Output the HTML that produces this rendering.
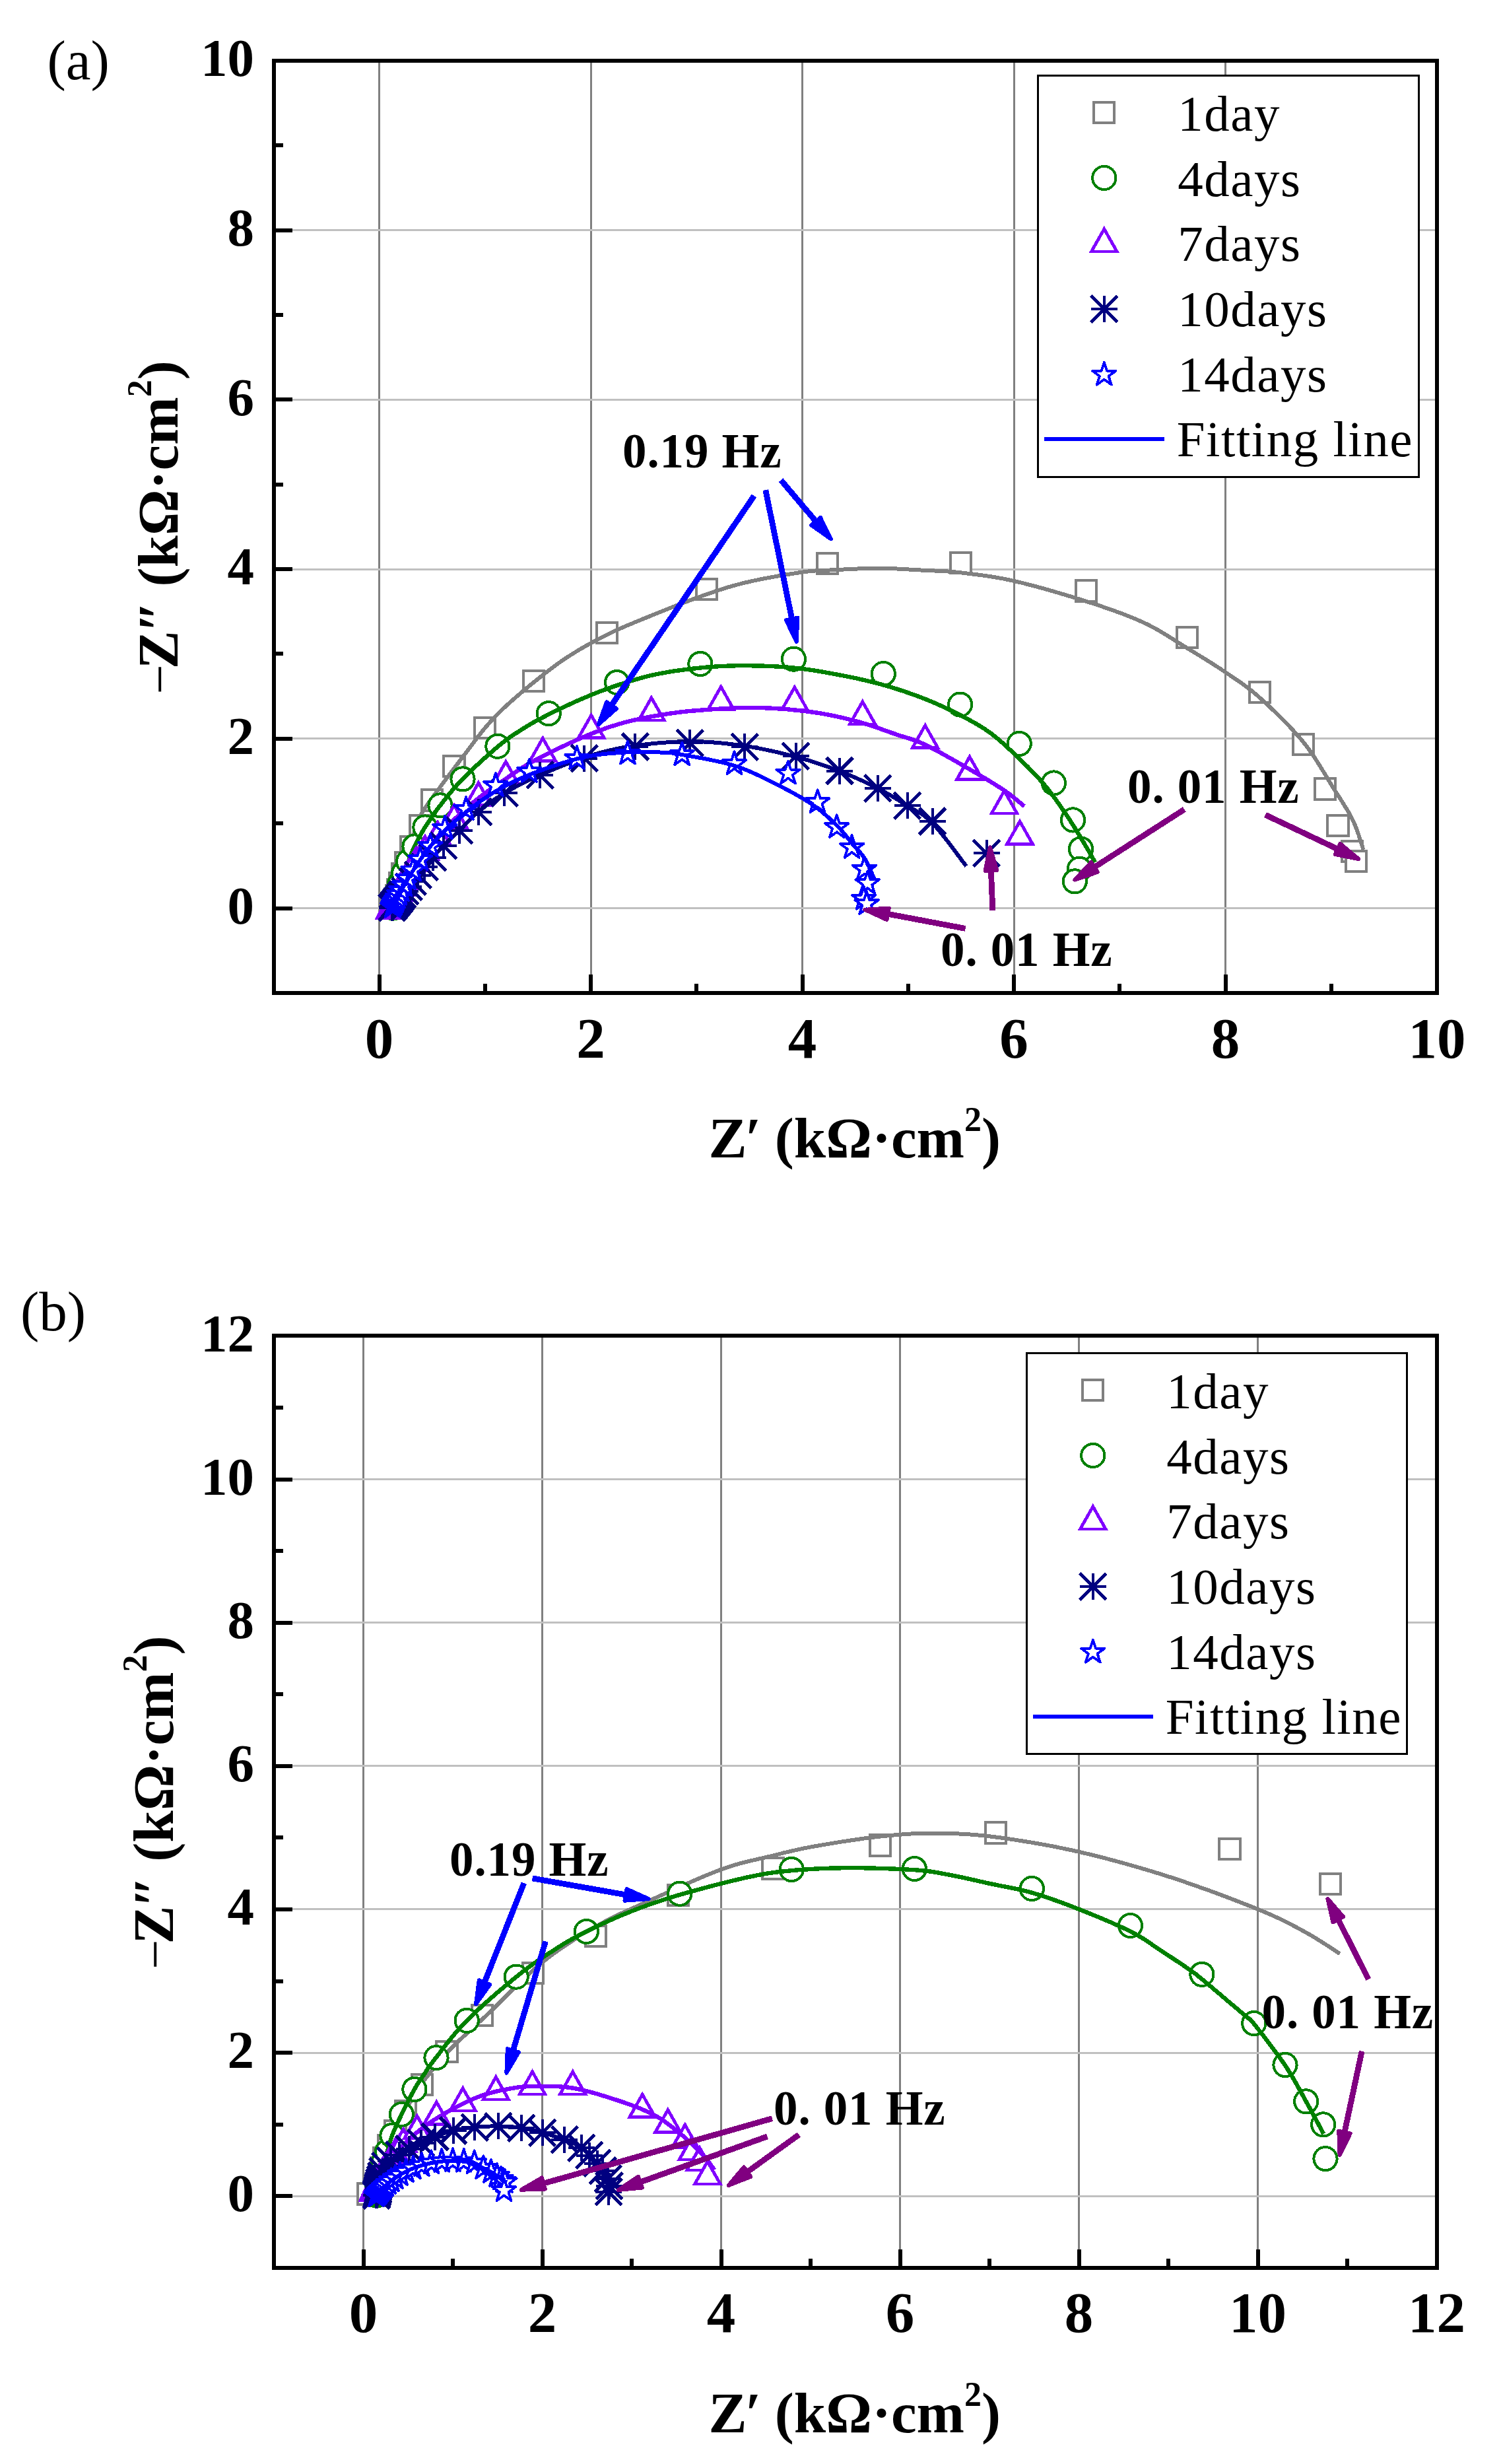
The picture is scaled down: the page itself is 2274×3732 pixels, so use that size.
<!DOCTYPE html><html><head><meta charset="utf-8"><title>Nyquist plots</title><style>html,body{margin:0;padding:0;background:#fff}svg{display:block}text{font-family:"Liberation Serif",serif;fill:#000}</style></head><body>
<svg width="2274" height="3732" viewBox="0 0 2274 3732" shape-rendering="crispEdges">
<rect width="2274" height="3732" fill="#fff"/>
<text x="71.5" y="119.5" font-size="85">(a)</text>
<text x="31" y="2014.6" font-size="85">(b)</text>
<g>
<g stroke-width="3" fill="none"><path stroke="#808080" d="M574.6 91.9V1503.9M895.1 91.9V1503.9M1215.6 91.9V1503.9M1536.0 91.9V1503.9M1856.5 91.9V1503.9"/><path stroke="#c0c0c0" d="M414.9 1375.5H2176.7M414.9 1118.8H2176.7M414.9 862.0H2176.7M414.9 605.3H2176.7M414.9 348.5H2176.7"/></g>
<path stroke="#000" stroke-width="6" fill="none" d="M574.6 1503.9V1475.6M895.1 1503.9V1475.6M1215.6 1503.9V1475.6M1536.0 1503.9V1475.6M1856.5 1503.9V1475.6M2177.0 1503.9V1475.6M734.8 1503.9V1489.9M1055.3 1503.9V1489.9M1375.8 1503.9V1489.9M1696.3 1503.9V1489.9M2016.8 1503.9V1489.9M414.9 1375.5H443.2M414.9 1118.8H443.2M414.9 862.0H443.2M414.9 605.3H443.2M414.9 348.5H443.2M414.9 91.8H443.2M414.9 1247.1H428.9M414.9 990.4H428.9M414.9 733.6H428.9M414.9 476.9H428.9M414.9 220.2H428.9"/>
<rect x="414.9" y="91.9" width="1761.8" height="1412.0" fill="none" stroke="#000" stroke-width="6"/>
<g font-weight="bold" font-size="81" text-anchor="end">
<text x="385" y="1398.7">0</text>
<text x="385" y="1142.0">2</text>
<text x="385" y="885.2">4</text>
<text x="385" y="628.5">6</text>
<text x="385" y="371.7">8</text>
<text x="385" y="115.0">10</text>
</g>
<g font-weight="bold" font-size="87" text-anchor="middle">
<text x="574.6" y="1601.5">0</text>
<text x="895.1" y="1601.5">2</text>
<text x="1215.6" y="1601.5">4</text>
<text x="1536.0" y="1601.5">6</text>
<text x="1856.5" y="1601.5">8</text>
<text x="2177.0" y="1601.5">10</text>
</g>
<text font-weight="bold" font-size="87" text-anchor="middle" x="1294.8" y="1752.9">Z<tspan font-style="italic" dx="-4">′</tspan> (kΩ·cm<tspan font-size="52" dy="-40">2</tspan><tspan dy="40">)</tspan></text>
<text font-weight="bold" font-size="87" text-anchor="middle" transform="translate(268.8 798.9) rotate(-90)"><tspan font-weight="normal" font-size="80">−</tspan><tspan dx="-7">Z</tspan><tspan font-style="italic" dx="-3">″</tspan> (kΩ·cm<tspan font-size="52" dy="-40">2</tspan><tspan dy="40">)</tspan></text>
<g stroke="#808080" stroke-width="4" fill="#fff" stroke-linejoin="miter"><rect x="577.9" y="1358.5" width="31.2" height="31.2"/><rect x="578.1" y="1357.8" width="31.2" height="31.2"/><rect x="578.4" y="1357.0" width="31.2" height="31.2"/><rect x="578.7" y="1355.8" width="31.2" height="31.2"/><rect x="579.2" y="1354.2" width="31.2" height="31.2"/><rect x="579.8" y="1352.1" width="31.2" height="31.2"/><rect x="580.8" y="1349.3" width="31.2" height="31.2"/><rect x="582.5" y="1345.7" width="31.2" height="31.2"/><rect x="585.0" y="1340.9" width="31.2" height="31.2"/><rect x="587.0" y="1331.9" width="31.2" height="31.2"/><rect x="589.5" y="1321.9" width="31.2" height="31.2"/><rect x="593.5" y="1308.4" width="31.2" height="31.2"/><rect x="598.6" y="1290.6" width="31.2" height="31.2"/><rect x="607.3" y="1267.3" width="31.2" height="31.2"/><rect x="620.6" y="1235.3" width="31.2" height="31.2"/><rect x="638.8" y="1196.3" width="31.2" height="31.2"/><rect x="672.4" y="1144.9" width="31.2" height="31.2"/><rect x="718.7" y="1086.8" width="31.2" height="31.2"/><rect x="792.9" y="1016.2" width="31.2" height="31.2"/><rect x="903.9" y="942.7" width="31.2" height="31.2"/><rect x="1054.9" y="877.0" width="31.2" height="31.2"/><rect x="1237.8" y="838.0" width="31.2" height="31.2"/><rect x="1439.6" y="837.0" width="31.2" height="31.2"/><rect x="1629.5" y="879.3" width="31.2" height="31.2"/><rect x="1782.7" y="950.0" width="31.2" height="31.2"/><rect x="1892.6" y="1032.6" width="31.2" height="31.2"/><rect x="1958.5" y="1112.2" width="31.2" height="31.2"/><rect x="1992.0" y="1179.4" width="31.2" height="31.2"/><rect x="2011.4" y="1234.8" width="31.2" height="31.2"/><rect x="2032.6" y="1274.0" width="31.2" height="31.2"/><rect x="2039.0" y="1288.8" width="31.2" height="31.2"/></g>
<path d="M593.0 1376.0 L593.1 1375.5 L593.3 1374.9 L593.5 1374.2 L593.7 1373.4 L594.0 1372.5 L594.2 1371.6 L594.5 1370.7 L594.8 1369.7 L595.1 1368.7 L595.4 1367.8 L595.7 1366.9 L596.0 1366.0 L596.3 1365.2 L596.6 1364.4 L596.9 1363.7 L597.3 1363.0 L597.6 1362.3 L597.9 1361.5 L598.3 1360.8 L598.6 1360.0 L599.0 1359.1 L599.3 1358.2 L599.7 1357.1 L600.0 1356.0 L600.3 1354.7 L600.7 1353.4 L601.0 1351.9 L601.3 1350.3 L601.7 1348.6 L602.0 1347.0 L602.3 1345.3 L602.7 1343.6 L603.0 1342.0 L603.3 1340.4 L603.7 1338.9 L604.0 1337.5 L604.3 1336.2 L604.7 1335.0 L605.0 1333.9 L605.3 1332.8 L605.6 1331.7 L605.9 1330.7 L606.3 1329.6 L606.6 1328.6 L606.9 1327.5 L607.3 1326.4 L607.6 1325.2 L608.0 1324.0 L608.4 1322.7 L608.7 1321.4 L609.1 1320.1 L609.5 1318.7 L609.9 1317.3 L610.3 1315.9 L610.7 1314.5 L611.1 1313.0 L611.6 1311.5 L612.0 1309.9 L612.5 1308.3 L613.0 1306.6 L613.5 1304.9 L614.1 1303.1 L614.6 1301.3 L615.2 1299.5 L615.8 1297.6 L616.4 1295.7 L617.0 1293.7 L617.7 1291.7 L618.4 1289.6 L619.0 1287.5 L619.8 1285.3 L620.5 1283.0 L621.3 1280.6 L622.1 1278.0 L622.9 1275.3 L623.8 1272.5 L624.7 1269.7 L625.7 1266.8 L626.6 1264.0 L627.5 1261.2 L628.4 1258.4 L629.3 1255.8 L630.2 1253.3 L631.0 1251.0 L631.8 1248.9 L632.4 1247.0 L633.0 1245.3 L633.6 1243.7 L634.1 1242.1 L634.7 1240.6 L635.3 1239.1 L635.9 1237.6 L636.7 1235.9 L637.6 1234.1 L638.7 1232.2 L640.0 1230.0 L641.4 1227.7 L643.0 1225.2 L644.7 1222.7 L646.4 1220.1 L648.3 1217.4 L650.3 1214.6 L652.4 1211.8 L654.6 1208.8 L656.8 1205.7 L659.1 1202.5 L661.5 1199.3 L664.0 1195.9 L666.6 1192.4 L669.3 1188.7 L672.2 1184.8 L675.2 1180.8 L678.2 1176.7 L681.4 1172.6 L684.5 1168.4 L687.7 1164.2 L690.8 1160.0 L694.0 1155.9 L697.0 1151.8 L700.0 1147.9 L702.9 1144.0 L705.9 1140.1 L708.8 1136.2 L711.8 1132.2 L714.7 1128.3 L717.6 1124.5 L720.5 1120.6 L723.4 1116.9 L726.2 1113.3 L729.0 1109.7 L731.7 1106.3 L734.4 1103.1 L737.0 1100.0 L739.4 1097.2 L741.8 1094.5 L744.0 1092.0 L746.3 1089.5 L748.5 1087.1 L750.8 1084.7 L753.1 1082.3 L755.6 1079.9 L758.2 1077.4 L760.9 1074.7 L763.9 1071.9 L767.1 1069.0 L770.4 1065.9 L773.8 1062.8 L777.4 1059.6 L781.1 1056.4 L784.8 1053.2 L788.7 1049.9 L792.6 1046.6 L796.5 1043.3 L800.5 1040.0 L804.5 1036.7 L808.5 1033.5 L812.5 1030.3 L816.6 1027.0 L820.7 1023.8 L824.8 1020.5 L829.0 1017.3 L833.3 1014.0 L837.6 1010.8 L841.9 1007.5 L846.3 1004.4 L850.8 1001.2 L855.3 998.1 L859.9 995.1 L864.6 992.1 L869.3 989.2 L874.1 986.2 L879.0 983.3 L883.9 980.4 L888.9 977.6 L893.9 974.8 L899.0 972.1 L904.0 969.4 L909.1 966.7 L914.1 964.1 L919.1 961.6 L924.0 959.2 L928.8 956.9 L933.6 954.7 L938.3 952.5 L943.0 950.5 L947.7 948.4 L952.6 946.4 L957.6 944.3 L962.8 942.1 L968.2 939.9 L973.8 937.6 L979.8 935.2 L986.2 932.6 L993.0 929.8 L1000.1 927.0 L1007.5 924.0 L1015.1 921.0 L1022.8 918.0 L1030.5 914.9 L1038.2 912.0 L1045.7 909.1 L1053.0 906.4 L1060.0 903.9 L1066.6 901.5 L1072.8 899.3 L1078.7 897.3 L1084.3 895.4 L1089.7 893.6 L1094.9 891.9 L1100.1 890.3 L1105.3 888.8 L1110.5 887.3 L1115.8 885.8 L1121.4 884.4 L1127.1 882.9 L1133.2 881.5 L1139.7 880.0 L1146.5 878.6 L1153.6 877.1 L1161.0 875.7 L1168.4 874.3 L1175.9 873.0 L1183.3 871.7 L1190.6 870.5 L1197.6 869.3 L1204.4 868.3 L1210.7 867.3 L1216.5 866.5 L1221.8 865.8 L1226.6 865.2 L1230.9 864.8 L1235.0 864.5 L1238.8 864.2 L1242.5 864.0 L1246.1 863.9 L1249.8 863.7 L1253.5 863.6 L1257.5 863.5 L1261.8 863.3 L1266.4 863.1 L1271.4 862.9 L1276.5 862.6 L1281.9 862.3 L1287.4 862.1 L1293.0 861.8 L1298.7 861.5 L1304.4 861.3 L1310.2 861.1 L1316.0 861.0 L1321.7 860.9 L1327.4 860.8 L1333.0 860.8 L1338.6 860.9 L1344.2 861.0 L1349.9 861.2 L1355.6 861.4 L1361.4 861.6 L1367.1 861.9 L1372.7 862.2 L1378.3 862.6 L1383.8 862.9 L1389.2 863.2 L1394.5 863.5 L1399.7 863.8 L1404.6 864.0 L1409.3 864.2 L1413.7 864.4 L1418.0 864.6 L1422.3 864.8 L1426.5 864.9 L1430.7 865.2 L1435.1 865.4 L1439.6 865.8 L1444.4 866.2 L1449.5 866.7 L1455.0 867.3 L1460.8 868.0 L1466.7 868.7 L1472.7 869.4 L1479.0 870.2 L1485.4 871.0 L1492.0 871.9 L1498.8 872.9 L1505.8 874.0 L1513.0 875.3 L1520.4 876.6 L1528.0 878.2 L1535.8 879.9 L1544.0 881.8 L1552.6 883.9 L1561.6 886.3 L1570.9 888.7 L1580.4 891.3 L1589.9 894.0 L1599.6 896.8 L1609.1 899.6 L1618.5 902.4 L1627.7 905.2 L1636.6 907.9 L1645.0 910.6 L1653.1 913.2 L1661.2 915.9 L1669.0 918.5 L1676.7 921.1 L1684.3 923.8 L1691.7 926.4 L1699.0 929.1 L1706.1 931.8 L1713.1 934.6 L1719.9 937.4 L1726.5 940.3 L1733.0 943.2 L1739.3 946.2 L1745.3 949.3 L1751.1 952.4 L1756.7 955.6 L1762.2 958.8 L1767.5 962.1 L1772.7 965.4 L1777.9 968.6 L1783.0 971.9 L1788.1 975.1 L1793.2 978.3 L1798.3 981.5 L1803.4 984.6 L1808.5 987.7 L1813.5 990.8 L1818.5 993.8 L1823.4 996.8 L1828.3 999.9 L1833.1 1002.9 L1837.9 1005.9 L1842.7 1009.0 L1847.4 1012.0 L1852.0 1015.1 L1856.6 1018.2 L1861.1 1021.2 L1865.4 1024.2 L1869.6 1027.0 L1873.8 1029.8 L1877.9 1032.6 L1881.9 1035.5 L1886.0 1038.5 L1890.2 1041.6 L1894.5 1044.9 L1898.9 1048.5 L1903.4 1052.3 L1908.2 1056.5 L1913.2 1061.0 L1918.5 1065.9 L1924.1 1071.1 L1929.8 1076.5 L1935.5 1082.1 L1941.4 1087.8 L1947.1 1093.7 L1952.9 1099.6 L1958.5 1105.5 L1963.8 1111.5 L1969.0 1117.3 L1973.8 1123.1 L1978.4 1128.9 L1982.8 1134.8 L1987.1 1140.8 L1991.2 1146.9 L1995.2 1153.0 L1999.0 1159.1 L2002.8 1165.2 L2006.4 1171.1 L2009.9 1176.9 L2013.3 1182.6 L2016.6 1188.0 L2019.8 1193.1 L2022.9 1198.0 L2025.9 1202.6 L2028.8 1207.1 L2031.5 1211.4 L2034.2 1215.6 L2036.7 1219.7 L2039.1 1223.6 L2041.5 1227.5 L2043.7 1231.4 L2045.8 1235.3 L2047.9 1239.1 L2049.8 1243.0 L2051.7 1247.0 L2053.4 1251.2 L2055.1 1255.4 L2056.7 1259.7 L2058.2 1264.0 L2059.5 1268.1 L2060.8 1272.1 L2062.0 1275.8 L2063.0 1279.2 L2064.0 1282.3 L2064.8 1284.9 L2065.5 1287.0" fill="none" stroke="#808080" stroke-width="6" stroke-linejoin="round"/>
<g stroke="#008000" stroke-width="4" fill="#fff" stroke-linejoin="miter"><circle cx="595.4" cy="1375.1" r="17.6"/><circle cx="595.6" cy="1374.4" r="17.6"/><circle cx="595.8" cy="1373.3" r="17.6"/><circle cx="596.1" cy="1371.9" r="17.6"/><circle cx="596.6" cy="1369.9" r="17.6"/><circle cx="597.2" cy="1367.2" r="17.6"/><circle cx="598.2" cy="1363.4" r="17.6"/><circle cx="599.5" cy="1358.2" r="17.6"/><circle cx="601.6" cy="1350.9" r="17.6"/><circle cx="605.6" cy="1338.9" r="17.6"/><circle cx="611.6" cy="1322.9" r="17.6"/><circle cx="618.6" cy="1305.0" r="17.6"/><circle cx="628.0" cy="1282.0" r="17.6"/><circle cx="643.9" cy="1253.0" r="17.6"/><circle cx="667.0" cy="1219.9" r="17.6"/><circle cx="701.0" cy="1179.9" r="17.6"/><circle cx="753.9" cy="1130.3" r="17.6"/><circle cx="831.2" cy="1080.7" r="17.6"/><circle cx="934.6" cy="1033.6" r="17.6"/><circle cx="1060.9" cy="1005.5" r="17.6"/><circle cx="1202.4" cy="998.2" r="17.6"/><circle cx="1338.3" cy="1020.5" r="17.6"/><circle cx="1454.6" cy="1067.1" r="17.6"/><circle cx="1544.2" cy="1126.4" r="17.6"/><circle cx="1596.4" cy="1186.0" r="17.6"/><circle cx="1625.5" cy="1241.9" r="17.6"/><circle cx="1637.5" cy="1285.9" r="17.6"/><circle cx="1635.3" cy="1316.3" r="17.6"/><circle cx="1628.3" cy="1334.9" r="17.6"/></g>
<path d="M595.0 1377.0 L595.1 1376.4 L595.3 1375.6 L595.5 1374.7 L595.8 1373.6 L596.0 1372.5 L596.3 1371.3 L596.6 1370.1 L596.8 1368.8 L597.1 1367.6 L597.4 1366.3 L597.7 1365.1 L598.0 1364.0 L598.3 1362.9 L598.6 1361.8 L598.8 1360.7 L599.1 1359.6 L599.4 1358.5 L599.7 1357.4 L600.0 1356.3 L600.3 1355.3 L600.7 1354.2 L601.0 1353.1 L601.3 1352.0 L601.6 1351.0 L601.9 1350.0 L602.2 1349.0 L602.5 1348.0 L602.8 1347.1 L603.1 1346.1 L603.5 1345.2 L603.8 1344.2 L604.1 1343.3 L604.5 1342.3 L604.8 1341.2 L605.2 1340.1 L605.6 1339.0 L606.0 1337.8 L606.5 1336.6 L606.9 1335.3 L607.4 1334.0 L607.9 1332.7 L608.4 1331.4 L608.9 1330.0 L609.5 1328.6 L610.0 1327.2 L610.5 1325.8 L611.1 1324.4 L611.6 1323.0 L612.1 1321.6 L612.7 1320.2 L613.2 1318.8 L613.8 1317.3 L614.3 1315.9 L614.9 1314.4 L615.5 1313.0 L616.1 1311.4 L616.7 1309.9 L617.3 1308.3 L617.9 1306.7 L618.6 1305.0 L619.3 1303.3 L620.0 1301.5 L620.6 1299.7 L621.3 1297.9 L622.0 1296.1 L622.7 1294.2 L623.5 1292.3 L624.3 1290.3 L625.1 1288.3 L626.0 1286.2 L627.0 1284.1 L628.0 1282.0 L629.1 1279.8 L630.2 1277.6 L631.3 1275.3 L632.6 1272.9 L633.8 1270.5 L635.1 1268.1 L636.4 1265.7 L637.8 1263.2 L639.3 1260.7 L640.8 1258.1 L642.3 1255.6 L643.9 1253.0 L645.5 1250.4 L647.2 1247.8 L648.9 1245.2 L650.7 1242.5 L652.5 1239.8 L654.3 1237.1 L656.2 1234.4 L658.2 1231.6 L660.3 1228.8 L662.4 1225.9 L664.7 1222.9 L667.0 1219.9 L669.4 1216.8 L671.8 1213.7 L674.3 1210.6 L676.8 1207.4 L679.4 1204.2 L682.1 1200.9 L684.9 1197.5 L687.9 1194.1 L690.9 1190.7 L694.1 1187.2 L697.5 1183.6 L701.0 1179.9 L704.8 1176.1 L708.9 1172.0 L713.2 1167.8 L717.8 1163.4 L722.5 1159.0 L727.2 1154.6 L732.0 1150.3 L736.7 1146.0 L741.3 1141.9 L745.7 1138.0 L750.0 1134.3 L753.9 1131.0 L757.6 1128.0 L761.1 1125.2 L764.4 1122.6 L767.6 1120.2 L770.7 1117.9 L773.7 1115.8 L776.7 1113.8 L779.7 1111.8 L782.7 1109.9 L785.7 1108.0 L788.7 1106.0 L791.9 1104.0 L795.1 1102.0 L798.2 1100.1 L801.3 1098.2 L804.4 1096.4 L807.5 1094.6 L810.7 1092.8 L813.9 1091.1 L817.1 1089.3 L820.5 1087.6 L824.0 1085.8 L827.6 1083.9 L831.3 1082.0 L835.2 1080.0 L839.3 1078.0 L843.6 1075.9 L847.9 1073.8 L852.4 1071.7 L856.9 1069.6 L861.4 1067.5 L866.0 1065.4 L870.5 1063.3 L875.1 1061.3 L879.5 1059.4 L883.9 1057.5 L888.2 1055.7 L892.4 1053.9 L896.6 1052.2 L900.8 1050.5 L904.9 1048.9 L909.1 1047.2 L913.3 1045.7 L917.5 1044.1 L921.8 1042.5 L926.1 1041.0 L930.5 1039.5 L935.0 1038.0 L939.6 1036.5 L944.2 1035.0 L948.8 1033.5 L953.5 1032.0 L958.3 1030.6 L963.1 1029.2 L967.9 1027.8 L972.8 1026.4 L977.8 1025.1 L982.9 1023.8 L988.0 1022.6 L993.2 1021.5 L998.5 1020.4 L1004.0 1019.4 L1009.5 1018.4 L1015.1 1017.4 L1020.8 1016.5 L1026.6 1015.7 L1032.4 1014.9 L1038.1 1014.1 L1043.9 1013.4 L1049.6 1012.7 L1055.3 1012.1 L1060.9 1011.5 L1066.4 1011.0 L1071.8 1010.5 L1077.2 1010.0 L1082.5 1009.7 L1087.9 1009.3 L1093.2 1009.0 L1098.5 1008.8 L1103.9 1008.6 L1109.4 1008.4 L1115.0 1008.3 L1120.7 1008.2 L1126.5 1008.2 L1132.5 1008.2 L1138.6 1008.3 L1144.8 1008.4 L1151.1 1008.5 L1157.5 1008.7 L1163.9 1008.9 L1170.4 1009.2 L1176.9 1009.5 L1183.3 1009.9 L1189.7 1010.4 L1196.1 1010.9 L1202.4 1011.5 L1208.7 1012.2 L1215.0 1012.9 L1221.3 1013.8 L1227.7 1014.7 L1234.0 1015.6 L1240.3 1016.7 L1246.5 1017.7 L1252.7 1018.8 L1258.8 1019.9 L1264.8 1021.0 L1270.7 1022.1 L1276.4 1023.2 L1282.0 1024.3 L1287.4 1025.4 L1292.7 1026.4 L1297.9 1027.5 L1303.1 1028.7 L1308.1 1029.8 L1313.1 1031.0 L1318.1 1032.2 L1323.1 1033.4 L1328.1 1034.7 L1333.2 1036.1 L1338.3 1037.5 L1343.5 1039.0 L1348.7 1040.5 L1353.9 1042.1 L1359.1 1043.7 L1364.3 1045.4 L1369.5 1047.1 L1374.7 1048.9 L1379.9 1050.7 L1385.0 1052.5 L1390.0 1054.3 L1395.0 1056.2 L1399.9 1058.1 L1404.7 1060.0 L1409.5 1062.0 L1414.3 1064.0 L1419.0 1066.0 L1423.7 1068.1 L1428.3 1070.2 L1432.8 1072.3 L1437.3 1074.5 L1441.7 1076.6 L1446.1 1078.8 L1450.4 1080.9 L1454.6 1083.1 L1458.7 1085.2 L1462.8 1087.4 L1466.7 1089.5 L1470.6 1091.6 L1474.4 1093.7 L1478.2 1095.8 L1481.9 1098.0 L1485.5 1100.2 L1489.2 1102.5 L1492.8 1104.8 L1496.3 1107.3 L1499.9 1109.8 L1503.4 1112.4 L1506.9 1115.1 L1510.3 1117.9 L1513.7 1120.7 L1517.0 1123.6 L1520.3 1126.5 L1523.6 1129.5 L1526.8 1132.5 L1530.1 1135.6 L1533.4 1138.7 L1536.7 1141.8 L1540.0 1145.0 L1543.4 1148.2 L1546.8 1151.5 L1550.2 1154.9 L1553.7 1158.3 L1557.2 1161.7 L1560.6 1165.2 L1564.0 1168.7 L1567.4 1172.2 L1570.7 1175.7 L1573.9 1179.2 L1577.0 1182.6 L1580.0 1186.0 L1582.9 1189.4 L1585.7 1192.8 L1588.4 1196.2 L1591.0 1199.6 L1593.6 1203.0 L1596.1 1206.4 L1598.6 1209.8 L1601.0 1213.1 L1603.3 1216.4 L1605.6 1219.7 L1607.8 1222.9 L1610.0 1226.0 L1612.1 1229.1 L1614.2 1232.1 L1616.2 1235.0 L1618.1 1237.9 L1619.9 1240.8 L1621.8 1243.6 L1623.5 1246.4 L1625.3 1249.2 L1627.0 1251.9 L1628.7 1254.6 L1630.3 1257.3 L1632.0 1260.0 L1633.7 1262.7 L1635.3 1265.4 L1637.0 1268.1 L1638.6 1270.8 L1640.2 1273.5 L1641.8 1276.1 L1643.3 1278.7 L1644.8 1281.2 L1646.2 1283.6 L1647.6 1285.9 L1648.8 1288.0 L1650.0 1290.0 L1651.1 1291.9 L1652.1 1293.7 L1653.1 1295.4 L1654.0 1297.0 L1654.8 1298.5 L1655.6 1299.9 L1656.3 1301.2 L1657.0 1302.4 L1657.6 1303.5 L1658.1 1304.4 L1658.6 1305.3 L1659.0 1306.0" fill="none" stroke="#008000" stroke-width="6.4" stroke-linejoin="round"/>
<g stroke="#8000ff" stroke-width="4.8" fill="#fff" stroke-linejoin="miter"><path d="M590.7 1356.9 L610.0 1391.0 L571.4 1391.0 Z"/><path d="M590.9 1356.6 L610.2 1390.7 L571.6 1390.7 Z"/><path d="M591.1 1356.1 L610.4 1390.2 L571.8 1390.2 Z"/><path d="M591.4 1355.5 L610.7 1389.6 L572.1 1389.6 Z"/><path d="M591.7 1354.8 L611.0 1388.9 L572.4 1388.9 Z"/><path d="M592.2 1353.8 L611.5 1387.9 L572.9 1387.9 Z"/><path d="M592.7 1352.7 L612.0 1386.8 L573.4 1386.8 Z"/><path d="M593.5 1351.2 L612.8 1385.3 L574.2 1385.3 Z"/><path d="M594.4 1349.3 L613.7 1383.4 L575.1 1383.4 Z"/><path d="M595.5 1346.8 L614.8 1380.9 L576.2 1380.9 Z"/><path d="M597.0 1343.8 L616.3 1377.9 L577.7 1377.9 Z"/><path d="M598.9 1340.0 L618.2 1374.1 L579.6 1374.1 Z"/><path d="M601.2 1335.1 L620.5 1369.2 L581.9 1369.2 Z"/><path d="M604.3 1329.0 L623.6 1363.1 L585.0 1363.1 Z"/><path d="M608.4 1321.3 L627.7 1355.4 L589.1 1355.4 Z"/><path d="M613.8 1311.7 L633.1 1345.8 L594.5 1345.8 Z"/><path d="M620.9 1299.7 L640.2 1333.8 L601.6 1333.8 Z"/><path d="M630.4 1284.9 L649.7 1319.0 L611.1 1319.0 Z"/><path d="M643.9 1267.0 L663.2 1301.1 L624.6 1301.1 Z"/><path d="M663.0 1245.6 L682.3 1279.7 L643.7 1279.7 Z"/><path d="M688.0 1219.6 L707.3 1253.7 L668.7 1253.7 Z"/><path d="M724.9 1185.6 L744.2 1219.7 L705.6 1219.7 Z"/><path d="M766.3 1153.6 L785.6 1187.7 L747.0 1187.7 Z"/><path d="M822.3 1118.1 L841.6 1152.2 L803.0 1152.2 Z"/><path d="M895.7 1083.3 L915.0 1117.4 L876.4 1117.4 Z"/><path d="M986.9 1056.8 L1006.2 1090.9 L967.6 1090.9 Z"/><path d="M1092.2 1040.2 L1111.5 1074.3 L1072.9 1074.3 Z"/><path d="M1203.8 1040.9 L1223.1 1075.0 L1184.5 1075.0 Z"/><path d="M1306.7 1062.8 L1326.0 1096.9 L1287.4 1096.9 Z"/><path d="M1401.6 1098.7 L1420.9 1132.8 L1382.3 1132.8 Z"/><path d="M1469.0 1146.2 L1488.3 1180.3 L1449.7 1180.3 Z"/><path d="M1521.5 1197.9 L1540.8 1232.0 L1502.2 1232.0 Z"/><path d="M1545.0 1244.1 L1564.3 1278.2 L1525.7 1278.2 Z"/></g>
<path d="M590.0 1380.0 L591.0 1378.1 L592.1 1375.6 L593.5 1372.8 L595.0 1369.6 L596.7 1366.2 L598.4 1362.5 L600.3 1358.7 L602.2 1354.8 L604.2 1350.9 L606.1 1347.1 L608.1 1343.5 L610.0 1340.0 L611.9 1336.6 L613.8 1333.2 L615.8 1329.8 L617.9 1326.4 L619.9 1323.0 L622.0 1319.5 L624.1 1316.1 L626.3 1312.8 L628.4 1309.5 L630.6 1306.2 L632.8 1303.1 L635.0 1300.0 L637.2 1297.0 L639.5 1294.0 L641.9 1291.2 L644.2 1288.3 L646.6 1285.5 L649.0 1282.8 L651.4 1280.1 L653.8 1277.4 L656.1 1274.8 L658.5 1272.3 L660.8 1269.8 L663.0 1267.3 L665.2 1264.9 L667.2 1262.7 L669.2 1260.5 L671.1 1258.4 L673.0 1256.3 L674.9 1254.3 L676.9 1252.2 L678.9 1250.2 L681.0 1248.1 L683.2 1245.9 L685.5 1243.7 L688.0 1241.3 L690.7 1238.8 L693.5 1236.2 L696.4 1233.5 L699.5 1230.7 L702.6 1227.9 L705.8 1225.1 L709.1 1222.3 L712.3 1219.5 L715.5 1216.7 L718.7 1214.0 L721.9 1211.5 L724.9 1209.0 L727.9 1206.7 L730.7 1204.5 L733.5 1202.4 L736.3 1200.3 L739.1 1198.3 L741.9 1196.4 L744.7 1194.4 L747.6 1192.4 L750.5 1190.4 L753.5 1188.4 L756.7 1186.2 L760.0 1184.0 L763.4 1181.7 L766.7 1179.4 L770.1 1177.0 L773.5 1174.6 L777.0 1172.2 L780.6 1169.7 L784.3 1167.2 L788.2 1164.6 L792.3 1162.0 L796.6 1159.4 L801.2 1156.7 L806.0 1154.0 L811.2 1151.2 L816.9 1148.2 L822.9 1145.1 L829.1 1141.9 L835.6 1138.7 L842.1 1135.5 L848.7 1132.3 L855.3 1129.2 L861.8 1126.2 L868.2 1123.3 L874.2 1120.5 L880.0 1118.0 L885.5 1115.6 L890.8 1113.4 L896.0 1111.3 L901.0 1109.3 L906.0 1107.4 L910.9 1105.6 L915.7 1103.8 L920.5 1102.1 L925.3 1100.5 L930.2 1099.0 L935.0 1097.5 L940.0 1096.0 L945.0 1094.6 L950.0 1093.2 L955.0 1092.0 L960.0 1090.8 L965.0 1089.7 L970.0 1088.6 L975.0 1087.5 L980.0 1086.6 L985.0 1085.6 L990.0 1084.7 L995.0 1083.9 L1000.0 1083.0 L1004.9 1082.2 L1009.7 1081.4 L1014.5 1080.7 L1019.1 1080.1 L1023.8 1079.4 L1028.6 1078.8 L1033.4 1078.3 L1038.3 1077.7 L1043.4 1077.2 L1048.7 1076.7 L1054.2 1076.3 L1060.0 1075.8 L1066.1 1075.3 L1072.5 1074.8 L1079.1 1074.3 L1085.9 1073.9 L1092.9 1073.4 L1100.0 1073.0 L1107.2 1072.6 L1114.5 1072.3 L1121.7 1072.0 L1128.9 1071.8 L1136.0 1071.8 L1143.0 1071.8 L1150.0 1071.9 L1157.0 1072.2 L1164.1 1072.5 L1171.3 1072.8 L1178.4 1073.3 L1185.5 1073.8 L1192.6 1074.3 L1199.6 1075.0 L1206.5 1075.7 L1213.3 1076.4 L1219.9 1077.2 L1226.4 1078.0 L1232.7 1078.9 L1238.9 1079.8 L1244.9 1080.8 L1250.8 1081.8 L1256.7 1082.9 L1262.4 1084.1 L1268.1 1085.3 L1273.7 1086.5 L1279.3 1087.8 L1284.9 1089.2 L1290.5 1090.6 L1296.0 1092.0 L1301.6 1093.5 L1307.2 1095.2 L1312.8 1096.9 L1318.5 1098.7 L1324.1 1100.6 L1329.6 1102.4 L1335.0 1104.3 L1340.3 1106.2 L1345.4 1108.0 L1350.4 1109.8 L1355.2 1111.4 L1359.7 1113.0 L1363.9 1114.4 L1367.7 1115.6 L1371.1 1116.6 L1374.4 1117.6 L1377.5 1118.5 L1380.5 1119.5 L1383.5 1120.5 L1386.6 1121.6 L1389.9 1122.8 L1393.5 1124.3 L1397.4 1126.0 L1401.7 1128.0 L1406.5 1130.3 L1411.6 1133.0 L1417.1 1135.9 L1422.8 1139.0 L1428.7 1142.2 L1434.7 1145.6 L1440.8 1149.0 L1446.8 1152.4 L1452.7 1155.8 L1458.4 1159.1 L1463.9 1162.3 L1469.1 1165.3 L1474.1 1168.2 L1479.0 1171.0 L1483.8 1173.9 L1488.5 1176.7 L1493.2 1179.4 L1497.7 1182.1 L1502.1 1184.8 L1506.3 1187.4 L1510.4 1190.0 L1514.3 1192.5 L1518.1 1194.9 L1521.6 1197.3 L1525.0 1199.7 L1528.3 1202.0 L1531.4 1204.4 L1534.4 1206.8 L1537.3 1209.0 L1540.0 1211.3 L1542.5 1213.3 L1544.8 1215.3 L1546.9 1217.1 L1548.8 1218.7 L1550.4 1220.1 L1551.8 1221.2" fill="none" stroke="#8000ff" stroke-width="6.4" stroke-linejoin="round"/>
<g stroke="#000080" stroke-width="4" fill="none" stroke-linejoin="miter"><path d="M574.0 1374.7H614.0M594.0 1354.7V1394.7"/><path stroke-width="5" d="M574.0 1354.7L614.0 1394.7M574.0 1394.7L614.0 1354.7"/><path d="M574.2 1374.4H614.2M594.2 1354.4V1394.4"/><path stroke-width="5" d="M574.2 1354.4L614.2 1394.4M574.2 1394.4L614.2 1354.4"/><path d="M574.5 1374.0H614.5M594.5 1354.0V1394.0"/><path stroke-width="5" d="M574.5 1354.0L614.5 1394.0M574.5 1394.0L614.5 1354.0"/><path d="M574.9 1373.6H614.9M594.9 1353.6V1393.6"/><path stroke-width="5" d="M574.9 1353.6L614.9 1393.6M574.9 1393.6L614.9 1353.6"/><path d="M575.4 1373.0H615.4M595.4 1353.0V1393.0"/><path stroke-width="5" d="M575.4 1353.0L615.4 1393.0M575.4 1393.0L615.4 1353.0"/><path d="M576.0 1372.3H616.0M596.0 1352.3V1392.3"/><path stroke-width="5" d="M576.0 1352.3L616.0 1392.3M576.0 1392.3L616.0 1352.3"/><path d="M576.7 1371.4H616.7M596.7 1351.4V1391.4"/><path stroke-width="5" d="M576.7 1351.4L616.7 1391.4M576.7 1391.4L616.7 1351.4"/><path d="M577.6 1370.2H617.6M597.6 1350.2V1390.2"/><path stroke-width="5" d="M577.6 1350.2L617.6 1390.2M577.6 1390.2L617.6 1350.2"/><path d="M578.7 1368.8H618.7M598.7 1348.8V1388.8"/><path stroke-width="5" d="M578.7 1348.8L618.7 1388.8M578.7 1388.8L618.7 1348.8"/><path d="M580.1 1367.1H620.1M600.1 1347.1V1387.1"/><path stroke-width="5" d="M580.1 1347.1L620.1 1387.1M580.1 1387.1L620.1 1347.1"/><path d="M581.8 1364.9H621.8M601.8 1344.9V1384.9"/><path stroke-width="5" d="M581.8 1344.9L621.8 1384.9M581.8 1384.9L621.8 1344.9"/><path d="M583.9 1362.2H623.9M603.9 1342.2V1382.2"/><path stroke-width="5" d="M583.9 1342.2L623.9 1382.2M583.9 1382.2L623.9 1342.2"/><path d="M586.5 1358.9H626.5M606.5 1338.9V1378.9"/><path stroke-width="5" d="M586.5 1338.9L626.5 1378.9M586.5 1378.9L626.5 1338.9"/><path d="M589.8 1354.8H629.8M609.8 1334.8V1374.8"/><path stroke-width="5" d="M589.8 1334.8L629.8 1374.8M589.8 1374.8L629.8 1334.8"/><path d="M593.9 1349.6H633.9M613.9 1329.6V1369.6"/><path stroke-width="5" d="M593.9 1329.6L633.9 1369.6M593.9 1369.6L633.9 1329.6"/><path d="M599.0 1343.3H639.0M619.0 1323.3V1363.3"/><path stroke-width="5" d="M599.0 1323.3L639.0 1363.3M599.0 1363.3L639.0 1323.3"/><path d="M605.3 1335.3H645.3M625.3 1315.3V1355.3"/><path stroke-width="5" d="M605.3 1315.3L645.3 1355.3M605.3 1355.3L645.3 1315.3"/><path d="M613.1 1325.5H653.1M633.1 1305.5V1345.5"/><path stroke-width="5" d="M613.1 1305.5L653.1 1345.5M613.1 1345.5L653.1 1305.5"/><path d="M623.0 1313.4H663.0M643.0 1293.4V1333.4"/><path stroke-width="5" d="M623.0 1293.4L663.0 1333.4M623.0 1333.4L663.0 1293.4"/><path d="M635.7 1298.7H675.7M655.7 1278.7V1318.7"/><path stroke-width="5" d="M635.7 1278.7L675.7 1318.7M635.7 1318.7L675.7 1278.7"/><path d="M652.0 1280.9H692.0M672.0 1260.9V1300.9"/><path stroke-width="5" d="M652.0 1260.9L692.0 1300.9M652.0 1300.9L692.0 1260.9"/><path d="M676.0 1257.9H716.0M696.0 1237.9V1277.9"/><path stroke-width="5" d="M676.0 1237.9L716.0 1277.9M676.0 1277.9L716.0 1237.9"/><path d="M704.9 1229.5H744.9M724.9 1209.5V1249.5"/><path stroke-width="5" d="M704.9 1209.5L744.9 1249.5M704.9 1249.5L744.9 1209.5"/><path d="M744.3 1201.3H784.3M764.3 1181.3V1221.3"/><path stroke-width="5" d="M744.3 1181.3L784.3 1221.3M744.3 1221.3L784.3 1181.3"/><path d="M798.3 1173.9H838.3M818.3 1153.9V1193.9"/><path stroke-width="5" d="M798.3 1153.9L838.3 1193.9M798.3 1193.9L838.3 1153.9"/><path d="M865.2 1148.6H905.2M885.2 1128.6V1168.6"/><path stroke-width="5" d="M865.2 1128.6L905.2 1168.6M865.2 1168.6L905.2 1128.6"/><path d="M942.3 1130.8H982.3M962.3 1110.8V1150.8"/><path stroke-width="5" d="M942.3 1110.8L982.3 1150.8M942.3 1150.8L982.3 1110.8"/><path d="M1025.2 1125.4H1065.2M1045.2 1105.4V1145.4"/><path stroke-width="5" d="M1025.2 1105.4L1065.2 1145.4M1025.2 1145.4L1065.2 1105.4"/><path d="M1108.2 1131.4H1148.2M1128.2 1111.4V1151.4"/><path stroke-width="5" d="M1108.2 1111.4L1148.2 1151.4M1108.2 1151.4L1148.2 1111.4"/><path d="M1185.5 1145.1H1225.5M1205.5 1125.1V1165.1"/><path stroke-width="5" d="M1185.5 1125.1L1225.5 1165.1M1185.5 1165.1L1225.5 1125.1"/><path d="M1252.0 1167.5H1292.0M1272.0 1147.5V1187.5"/><path stroke-width="5" d="M1252.0 1147.5L1292.0 1187.5M1252.0 1187.5L1292.0 1147.5"/><path d="M1309.8 1194.1H1349.8M1329.8 1174.1V1214.1"/><path stroke-width="5" d="M1309.8 1174.1L1349.8 1214.1M1309.8 1214.1L1349.8 1174.1"/><path d="M1354.5 1220.4H1394.5M1374.5 1200.4V1240.4"/><path stroke-width="5" d="M1354.5 1200.4L1394.5 1240.4M1354.5 1240.4L1394.5 1200.4"/><path d="M1392.6 1243.9H1432.6M1412.6 1223.9V1263.9"/><path stroke-width="5" d="M1392.6 1223.9L1432.6 1263.9M1392.6 1263.9L1432.6 1223.9"/><path d="M1474.5 1292.4H1514.5M1494.5 1272.4V1312.4"/><path stroke-width="5" d="M1474.5 1272.4L1514.5 1312.4M1474.5 1312.4L1514.5 1272.4"/></g>
<path d="M593.0 1376.0 L594.3 1374.3 L596.0 1372.3 L597.9 1369.8 L600.1 1367.1 L602.4 1364.1 L604.9 1360.9 L607.5 1357.7 L610.1 1354.4 L612.8 1351.1 L615.3 1347.9 L617.7 1344.8 L620.0 1342.0 L622.1 1339.3 L624.3 1336.6 L626.3 1334.0 L628.4 1331.4 L630.5 1328.8 L632.5 1326.3 L634.5 1323.7 L636.6 1321.2 L638.7 1318.6 L640.7 1316.1 L642.9 1313.5 L645.0 1311.0 L647.2 1308.4 L649.4 1305.8 L651.7 1303.2 L654.0 1300.6 L656.3 1298.0 L658.6 1295.5 L660.9 1292.9 L663.1 1290.4 L665.4 1287.9 L667.7 1285.5 L669.8 1283.2 L672.0 1280.9 L674.1 1278.8 L676.1 1276.7 L678.1 1274.8 L680.0 1272.9 L682.0 1271.1 L683.9 1269.3 L685.8 1267.5 L687.7 1265.7 L689.7 1263.9 L691.8 1262.0 L693.8 1260.0 L696.0 1257.9 L698.2 1255.7 L700.4 1253.5 L702.6 1251.2 L704.9 1248.8 L707.2 1246.4 L709.5 1244.0 L711.9 1241.6 L714.3 1239.2 L716.8 1236.7 L719.4 1234.3 L722.1 1231.9 L724.9 1229.5 L727.8 1227.1 L730.7 1224.8 L733.7 1222.4 L736.7 1220.1 L739.8 1217.7 L743.0 1215.3 L746.3 1213.0 L749.7 1210.6 L753.2 1208.3 L756.8 1206.0 L760.5 1203.6 L764.3 1201.3 L768.2 1199.0 L772.2 1196.7 L776.3 1194.4 L780.4 1192.2 L784.7 1189.9 L789.1 1187.7 L793.6 1185.4 L798.2 1183.1 L803.0 1180.9 L807.9 1178.6 L813.0 1176.2 L818.3 1173.9 L823.8 1171.5 L829.7 1169.0 L835.8 1166.4 L842.1 1163.8 L848.5 1161.2 L855.0 1158.6 L861.6 1156.0 L868.1 1153.5 L874.6 1151.1 L881.0 1148.9 L887.3 1146.7 L893.3 1144.8 L899.1 1143.0 L904.7 1141.4 L910.1 1139.9 L915.5 1138.5 L920.8 1137.1 L926.0 1135.9 L931.3 1134.8 L936.7 1133.7 L942.2 1132.6 L947.9 1131.7 L953.8 1130.7 L960.0 1129.8 L966.4 1128.9 L973.1 1128.0 L980.0 1127.2 L987.1 1126.4 L994.2 1125.7 L1001.5 1125.0 L1008.8 1124.5 L1016.1 1124.0 L1023.5 1123.6 L1030.7 1123.3 L1037.9 1123.1 L1045.0 1123.0 L1052.0 1123.1 L1059.0 1123.2 L1066.0 1123.5 L1073.0 1123.9 L1080.0 1124.4 L1087.0 1124.9 L1093.9 1125.6 L1100.8 1126.3 L1107.7 1127.1 L1114.5 1127.9 L1121.3 1128.8 L1128.0 1129.8 L1134.7 1130.8 L1141.4 1131.9 L1148.1 1133.1 L1154.7 1134.4 L1161.4 1135.8 L1167.9 1137.2 L1174.5 1138.6 L1180.9 1140.1 L1187.3 1141.7 L1193.6 1143.2 L1199.7 1144.8 L1205.8 1146.4 L1211.7 1148.0 L1217.6 1149.7 L1223.4 1151.3 L1229.0 1153.1 L1234.6 1154.8 L1240.2 1156.6 L1245.6 1158.4 L1251.0 1160.3 L1256.3 1162.2 L1261.6 1164.1 L1266.8 1166.0 L1272.0 1168.0 L1277.2 1170.0 L1282.3 1172.1 L1287.3 1174.2 L1292.4 1176.3 L1297.3 1178.5 L1302.2 1180.7 L1307.1 1182.9 L1311.8 1185.1 L1316.5 1187.4 L1321.0 1189.6 L1325.5 1191.8 L1329.8 1194.0 L1334.0 1196.2 L1338.1 1198.4 L1342.1 1200.6 L1345.9 1202.8 L1349.7 1205.0 L1353.4 1207.2 L1357.0 1209.4 L1360.6 1211.6 L1364.1 1213.8 L1367.6 1216.0 L1371.0 1218.2 L1374.5 1220.4 L1377.9 1222.5 L1381.1 1224.3 L1384.2 1226.1 L1387.2 1227.7 L1390.2 1229.4 L1393.1 1231.1 L1396.1 1232.9 L1399.2 1235.0 L1402.3 1237.3 L1405.6 1240.0 L1409.0 1243.1 L1412.6 1246.6 L1416.6 1250.9 L1421.0 1256.0 L1425.7 1261.7 L1430.6 1267.9 L1435.6 1274.3 L1440.6 1280.8 L1445.4 1287.3 L1450.0 1293.5 L1454.3 1299.2 L1458.1 1304.3 L1461.3 1308.5 L1463.8 1311.8" fill="none" stroke="#000080" stroke-width="6" stroke-linejoin="round"/>
<g stroke="#0000ff" stroke-width="3.8" fill="#fff" stroke-linejoin="round"><path d="M594.8 1354.8 L599.0 1367.7 L612.6 1367.7 L601.6 1375.7 L605.8 1388.6 L594.8 1380.7 L583.8 1388.6 L587.9 1375.7 L577.0 1367.7 L590.6 1367.7 Z"/><path d="M595.0 1354.4 L599.2 1367.3 L612.8 1367.3 L601.9 1375.3 L606.0 1388.2 L595.0 1380.3 L584.0 1388.2 L588.2 1375.3 L577.2 1367.3 L590.8 1367.3 Z"/><path d="M595.3 1353.8 L599.5 1366.7 L613.1 1366.7 L602.2 1374.7 L606.3 1387.6 L595.3 1379.7 L584.3 1387.6 L588.5 1374.7 L577.5 1366.7 L591.1 1366.7 Z"/><path d="M595.7 1353.1 L599.9 1365.9 L613.5 1366.0 L602.6 1374.0 L606.7 1386.9 L595.7 1379.0 L584.7 1386.9 L588.9 1374.0 L577.9 1366.0 L591.5 1365.9 Z"/><path d="M596.2 1352.1 L600.4 1365.0 L614.0 1365.0 L603.1 1373.0 L607.2 1385.9 L596.2 1378.0 L585.2 1385.9 L589.4 1373.0 L578.4 1365.0 L592.0 1365.0 Z"/><path d="M596.9 1350.8 L601.1 1363.7 L614.7 1363.7 L603.7 1371.7 L607.9 1384.6 L596.9 1376.7 L585.9 1384.6 L590.0 1371.7 L579.1 1363.7 L592.6 1363.7 Z"/><path d="M597.7 1349.2 L602.0 1362.1 L615.5 1362.1 L604.6 1370.1 L608.7 1383.0 L597.7 1375.1 L586.7 1383.0 L590.9 1370.1 L579.9 1362.1 L593.5 1362.1 Z"/><path d="M598.8 1347.0 L603.1 1359.9 L616.6 1360.0 L605.7 1368.0 L609.8 1380.9 L598.8 1372.9 L587.8 1380.9 L592.0 1368.0 L581.0 1360.0 L594.6 1359.9 Z"/><path d="M600.3 1344.3 L604.5 1357.2 L618.1 1357.2 L607.1 1365.2 L611.3 1378.1 L600.3 1370.2 L589.3 1378.1 L593.4 1365.2 L582.5 1357.2 L596.0 1357.2 Z"/><path d="M602.2 1340.7 L606.4 1353.6 L619.9 1353.6 L609.0 1361.6 L613.1 1374.5 L602.2 1366.6 L591.2 1374.5 L595.3 1361.6 L584.4 1353.6 L597.9 1353.6 Z"/><path d="M604.6 1336.1 L608.9 1348.9 L622.4 1349.0 L611.5 1357.0 L615.6 1369.9 L604.6 1362.0 L593.6 1369.9 L597.8 1357.0 L586.8 1349.0 L600.4 1348.9 Z"/><path d="M607.9 1330.1 L612.1 1342.9 L625.7 1343.0 L614.7 1351.0 L618.9 1363.9 L607.9 1356.0 L596.9 1363.9 L601.0 1351.0 L590.1 1343.0 L603.7 1342.9 Z"/><path d="M612.3 1322.3 L616.5 1335.2 L630.1 1335.3 L619.1 1343.3 L623.3 1356.2 L612.3 1348.2 L601.3 1356.2 L605.4 1343.3 L594.5 1335.3 L608.0 1335.2 Z"/><path d="M618.1 1312.4 L622.3 1325.3 L635.9 1325.3 L624.9 1333.3 L629.1 1346.2 L618.1 1338.3 L607.1 1346.2 L611.2 1333.3 L600.3 1325.3 L613.8 1325.3 Z"/><path d="M625.9 1299.6 L630.1 1312.5 L643.7 1312.5 L632.7 1320.6 L636.9 1333.5 L625.9 1325.5 L614.9 1333.5 L619.1 1320.6 L608.1 1312.5 L621.7 1312.5 Z"/><path d="M636.7 1283.5 L641.0 1296.3 L654.5 1296.4 L643.6 1304.4 L647.7 1317.3 L636.7 1309.4 L625.8 1317.3 L629.9 1304.4 L619.0 1296.4 L632.5 1296.3 Z"/><path d="M652.0 1263.2 L656.2 1276.1 L669.8 1276.1 L658.8 1284.1 L663.0 1297.0 L652.0 1289.1 L641.0 1297.0 L645.2 1284.1 L634.2 1276.1 L647.8 1276.1 Z"/><path d="M674.0 1236.2 L678.2 1249.1 L691.8 1249.1 L680.8 1257.1 L685.0 1270.0 L674.0 1262.1 L663.0 1270.0 L667.2 1257.1 L656.2 1249.1 L669.8 1249.1 Z"/><path d="M706.0 1207.2 L710.2 1220.1 L723.8 1220.1 L712.8 1228.1 L717.0 1241.0 L706.0 1233.1 L695.0 1241.0 L699.2 1228.1 L688.2 1220.1 L701.8 1220.1 Z"/><path d="M750.9 1171.2 L755.1 1184.1 L768.7 1184.1 L757.7 1192.1 L761.9 1205.0 L750.9 1197.1 L739.9 1205.0 L744.1 1192.1 L733.1 1184.1 L746.7 1184.1 Z"/><path d="M801.9 1150.2 L806.1 1163.1 L819.7 1163.1 L808.7 1171.1 L812.9 1184.0 L801.9 1176.1 L790.9 1184.0 L795.1 1171.1 L784.1 1163.1 L797.7 1163.1 Z"/><path d="M874.0 1130.3 L878.2 1143.2 L891.8 1143.2 L880.8 1151.2 L885.0 1164.1 L874.0 1156.2 L863.0 1164.1 L867.2 1151.2 L856.2 1143.2 L869.8 1143.2 Z"/><path d="M950.9 1122.7 L955.1 1135.6 L968.7 1135.6 L957.7 1143.6 L961.9 1156.5 L950.9 1148.6 L939.9 1156.5 L944.1 1143.6 L933.1 1135.6 L946.7 1135.6 Z"/><path d="M1033.2 1124.4 L1037.4 1137.3 L1051.0 1137.3 L1040.0 1145.3 L1044.2 1158.2 L1033.2 1150.3 L1022.2 1158.2 L1026.4 1145.3 L1015.4 1137.3 L1029.0 1137.3 Z"/><path d="M1112.5 1138.4 L1116.7 1151.3 L1130.3 1151.3 L1119.3 1159.3 L1123.5 1172.2 L1112.5 1164.3 L1101.5 1172.2 L1105.7 1159.3 L1094.7 1151.3 L1108.3 1151.3 Z"/><path d="M1194.0 1152.8 L1198.2 1165.7 L1211.8 1165.7 L1200.8 1173.7 L1205.0 1186.6 L1194.0 1178.7 L1183.0 1186.6 L1187.2 1173.7 L1176.2 1165.7 L1189.8 1165.7 Z"/><path d="M1238.6 1196.4 L1242.8 1209.3 L1256.4 1209.3 L1245.4 1217.3 L1249.6 1230.2 L1238.6 1222.3 L1227.6 1230.2 L1231.8 1217.3 L1220.8 1209.3 L1234.4 1209.3 Z"/><path d="M1267.8 1234.3 L1272.0 1247.2 L1285.6 1247.2 L1274.6 1255.2 L1278.8 1268.1 L1267.8 1260.2 L1256.8 1268.1 L1261.0 1255.2 L1250.0 1247.2 L1263.6 1247.2 Z"/><path d="M1290.6 1265.1 L1294.8 1278.0 L1308.4 1278.0 L1297.4 1286.0 L1301.6 1298.9 L1290.6 1291.0 L1279.6 1298.9 L1283.8 1286.0 L1272.8 1278.0 L1286.4 1278.0 Z"/><path d="M1309.5 1298.0 L1313.7 1310.9 L1327.3 1310.9 L1316.3 1318.9 L1320.5 1331.8 L1309.5 1323.9 L1298.5 1331.8 L1302.7 1318.9 L1291.7 1310.9 L1305.3 1310.9 Z"/><path d="M1314.3 1319.3 L1318.5 1332.2 L1332.1 1332.2 L1321.1 1340.2 L1325.3 1353.1 L1314.3 1345.2 L1303.3 1353.1 L1307.5 1340.2 L1296.5 1332.2 L1310.1 1332.2 Z"/><path d="M1308.7 1342.9 L1312.9 1355.8 L1326.5 1355.8 L1315.5 1363.8 L1319.7 1376.7 L1308.7 1368.8 L1297.7 1376.7 L1301.9 1363.8 L1290.9 1355.8 L1304.5 1355.8 Z"/><path d="M1313.1 1350.3 L1317.3 1363.2 L1330.9 1363.2 L1319.9 1371.2 L1324.1 1384.1 L1313.1 1376.2 L1302.1 1384.1 L1306.3 1371.2 L1295.3 1363.2 L1308.9 1363.2 Z"/></g>
<path d="M594.0 1375.0 L594.8 1373.6 L595.7 1371.8 L596.8 1369.7 L598.0 1367.3 L599.3 1364.8 L600.8 1362.1 L602.2 1359.2 L603.8 1356.3 L605.3 1353.4 L606.9 1350.5 L608.5 1347.7 L610.0 1345.0 L611.5 1342.3 L613.1 1339.6 L614.7 1336.9 L616.3 1334.1 L617.9 1331.3 L619.6 1328.5 L621.3 1325.7 L623.0 1322.9 L624.8 1320.1 L626.5 1317.4 L628.3 1314.7 L630.0 1312.0 L631.8 1309.4 L633.6 1306.7 L635.4 1304.1 L637.2 1301.5 L639.0 1298.9 L640.9 1296.4 L642.7 1293.9 L644.6 1291.4 L646.5 1288.9 L648.3 1286.5 L650.2 1284.2 L652.0 1281.9 L653.8 1279.7 L655.6 1277.6 L657.3 1275.6 L659.0 1273.6 L660.7 1271.7 L662.4 1269.8 L664.1 1267.9 L665.9 1266.0 L667.8 1264.0 L669.8 1262.1 L671.8 1260.0 L674.0 1257.9 L676.3 1255.7 L678.6 1253.5 L681.0 1251.3 L683.4 1249.0 L685.9 1246.7 L688.5 1244.4 L691.2 1242.1 L693.9 1239.7 L696.8 1237.3 L699.7 1234.8 L702.8 1232.4 L706.0 1229.9 L709.3 1227.4 L712.8 1224.7 L716.3 1222.0 L720.0 1219.3 L723.7 1216.5 L727.6 1213.8 L731.5 1211.0 L735.5 1208.3 L739.5 1205.6 L743.6 1202.9 L747.7 1200.4 L751.9 1197.9 L756.1 1195.5 L760.2 1193.2 L764.4 1190.9 L768.6 1188.7 L772.8 1186.5 L777.1 1184.4 L781.6 1182.3 L786.1 1180.2 L790.8 1178.1 L795.6 1176.0 L800.7 1174.0 L805.9 1171.9 L811.4 1169.8 L817.2 1167.6 L823.3 1165.4 L829.6 1163.2 L836.0 1161.0 L842.5 1158.8 L849.1 1156.7 L855.5 1154.7 L861.9 1152.8 L868.2 1151.0 L874.2 1149.4 L879.9 1148.0 L885.4 1146.8 L890.7 1145.7 L895.9 1144.7 L900.9 1143.9 L905.8 1143.2 L910.7 1142.5 L915.5 1142.0 L920.3 1141.5 L925.1 1141.1 L930.0 1140.7 L934.8 1140.4 L939.8 1140.0 L944.9 1139.7 L950.1 1139.4 L955.5 1139.3 L960.9 1139.1 L966.2 1139.1 L971.6 1139.0 L976.8 1139.0 L981.9 1139.1 L986.9 1139.2 L991.5 1139.3 L995.9 1139.4 L1000.0 1139.5 L1003.6 1139.6 L1006.5 1139.7 L1009.1 1139.8 L1011.3 1139.9 L1013.3 1140.0 L1015.3 1140.2 L1017.3 1140.4 L1019.6 1140.7 L1022.1 1141.1 L1025.1 1141.6 L1028.7 1142.2 L1033.0 1143.0 L1038.0 1143.9 L1043.7 1144.9 L1050.0 1146.0 L1056.6 1147.2 L1063.6 1148.4 L1070.8 1149.8 L1078.1 1151.3 L1085.4 1152.8 L1092.6 1154.4 L1099.6 1156.1 L1106.3 1157.9 L1112.5 1159.7 L1118.4 1161.6 L1124.2 1163.7 L1129.8 1165.9 L1135.3 1168.2 L1140.8 1170.6 L1146.1 1173.0 L1151.3 1175.5 L1156.5 1178.0 L1161.6 1180.5 L1166.6 1183.0 L1171.6 1185.5 L1176.5 1188.0 L1181.4 1190.5 L1186.3 1193.0 L1191.1 1195.5 L1195.9 1198.0 L1200.6 1200.5 L1205.2 1203.1 L1209.7 1205.6 L1214.2 1208.2 L1218.5 1210.8 L1222.7 1213.4 L1226.7 1216.0 L1230.6 1218.6 L1234.3 1221.2 L1238.0 1223.9 L1241.5 1226.6 L1244.9 1229.3 L1248.1 1232.1 L1251.3 1234.8 L1254.3 1237.5 L1257.2 1240.2 L1260.1 1242.9 L1262.8 1245.5 L1265.5 1248.0 L1268.0 1250.5 L1270.4 1252.9 L1272.7 1255.3 L1274.8 1257.6 L1276.7 1259.9 L1278.6 1262.1 L1280.4 1264.3 L1282.1 1266.5 L1283.8 1268.7 L1285.5 1270.8 L1287.2 1273.0 L1288.9 1275.1 L1290.6 1277.2 L1292.4 1279.3 L1294.1 1281.3 L1295.9 1283.2 L1297.7 1285.1 L1299.4 1287.0 L1301.1 1288.9 L1302.8 1290.8 L1304.4 1292.8 L1306.0 1294.8 L1307.6 1296.9 L1309.1 1299.0 L1310.6 1301.3 L1312.1 1303.8 L1313.5 1306.5 L1315.0 1309.5 L1316.4 1312.5 L1317.8 1315.7 L1319.2 1318.8 L1320.5 1321.8 L1321.7 1324.6 L1322.8 1327.3 L1323.8 1329.6 L1324.6 1331.6 L1325.3 1333.2" fill="none" stroke="#0000ff" stroke-width="6" stroke-linejoin="round"/>
<g transform="translate(1570.8 112.9)">
<rect x="1.7" y="1.6" width="577" height="608" fill="#fff" stroke="#000" stroke-width="3"/>
<g stroke-width="4" fill="#fff">
<g stroke="#808080"><rect x="86.4" y="41.9" width="31.2" height="31.2"/></g>
<g stroke="#008000"><circle cx="102.0" cy="156.6" r="17.6"/></g>
<g stroke="#8000ff" stroke-width="4.8"><path d="M102.0 233.9 L121.3 268.0 L82.7 268.0 Z"/></g>
<g stroke="#000080" stroke-width="4"><path d="M82.0 355.3H122.0M102.0 335.3V375.3"/><path stroke-width="5" d="M82.0 335.3L122.0 375.3M82.0 375.3L122.0 335.3"/></g>
<g stroke="#0000ff" stroke-width="3.8" stroke-linejoin="round"><path d="M102.0 435.9 L106.2 448.8 L119.8 448.8 L108.8 456.8 L113.0 469.7 L102.0 461.8 L91.0 469.7 L95.2 456.8 L84.2 448.8 L97.8 448.8 Z"/></g>
</g>
<line x1="11" y1="552.3" x2="193.5" y2="552.3" stroke="#0000ff" stroke-width="6"/>
<g font-size="77" letter-spacing="1.5">
<text x="213.5" y="85.0">1day</text>
<text x="213.5" y="183.7">4days</text>
<text x="213.5" y="282.4">7days</text>
<text x="213.5" y="381.1">10days</text>
<text x="213.5" y="479.8">14days</text>
<text x="212.0" y="578.5">Fitting line</text>
</g></g>
<line x1="1142.5" y1="750.9" x2="926.5" y2="1068.2" stroke="#0000ff" stroke-width="8.8"/><path d="M906.7 1097.3 L919.1 1063.2 L933.9 1073.2 Z" fill="#0000ff" stroke="#0000ff" stroke-width="6" stroke-linejoin="round"/>
<line x1="1159.8" y1="742.2" x2="1199.7" y2="937.4" stroke="#0000ff" stroke-width="8.8"/><path d="M1206.7 971.9 L1190.9 939.2 L1208.4 935.6 Z" fill="#0000ff" stroke="#0000ff" stroke-width="6" stroke-linejoin="round"/>
<line x1="1183.1" y1="727.2" x2="1236.1" y2="789.7" stroke="#0000ff" stroke-width="8.8"/><path d="M1258.9 816.5 L1229.3 795.4 L1242.9 783.9 Z" fill="#0000ff" stroke="#0000ff" stroke-width="6" stroke-linejoin="round"/>
<line x1="1794.3" y1="1225.9" x2="1657.9" y2="1313.5" stroke="#800080" stroke-width="8.8"/><path d="M1628.3 1332.5 L1653.1 1306.0 L1662.8 1320.9 Z" fill="#800080" stroke="#800080" stroke-width="6" stroke-linejoin="round"/>
<line x1="1917.0" y1="1234.2" x2="2026.5" y2="1286.0" stroke="#800080" stroke-width="8.8"/><path d="M2058.3 1301.0 L2022.7 1294.0 L2030.3 1277.9 Z" fill="#800080" stroke="#800080" stroke-width="6" stroke-linejoin="round"/>
<line x1="1503.9" y1="1378.7" x2="1501.4" y2="1318.6" stroke="#800080" stroke-width="8.8"/><path d="M1499.9 1283.4 L1510.3 1318.2 L1492.5 1318.9 Z" fill="#800080" stroke="#800080" stroke-width="6" stroke-linejoin="round"/>
<line x1="1462.6" y1="1406.4" x2="1345.0" y2="1384.3" stroke="#800080" stroke-width="8.8"/><path d="M1310.4 1377.8 L1346.7 1375.5 L1343.4 1393.0 Z" fill="#800080" stroke="#800080" stroke-width="6" stroke-linejoin="round"/>
<g font-weight="bold" font-size="73" letter-spacing="0.9">
<text x="943.0" y="708.2" xml:space="preserve">0.19 Hz</text>
<text x="1708.0" y="1215.6" xml:space="preserve">0. 01 Hz</text>
<text x="1425.0" y="1463.4" xml:space="preserve">0. 01 Hz</text>
</g>
</g>
<g>
<g stroke-width="3" fill="none"><path stroke="#808080" d="M550.5 2023.3V3434.8M821.5 2023.3V3434.8M1092.5 2023.3V3434.8M1363.5 2023.3V3434.8M1634.5 2023.3V3434.8M1905.5 2023.3V3434.8"/><path stroke="#c0c0c0" d="M415.0 3326.2H2176.6M415.0 3109.1H2176.6M415.0 2891.9H2176.6M415.0 2674.8H2176.6M415.0 2457.6H2176.6M415.0 2240.5H2176.6"/></g>
<path stroke="#000" stroke-width="6" fill="none" d="M550.5 3434.8V3406.5M821.5 3434.8V3406.5M1092.5 3434.8V3406.5M1363.5 3434.8V3406.5M1634.5 3434.8V3406.5M1905.5 3434.8V3406.5M2176.5 3434.8V3406.5M686.0 3434.8V3420.8M957.0 3434.8V3420.8M1228.0 3434.8V3420.8M1499.0 3434.8V3420.8M1770.0 3434.8V3420.8M2041.0 3434.8V3420.8M415.0 3326.2H443.3M415.0 3109.1H443.3M415.0 2891.9H443.3M415.0 2674.8H443.3M415.0 2457.6H443.3M415.0 2240.5H443.3M415.0 2023.4H443.3M415.0 3217.6H429.0M415.0 3000.5H429.0M415.0 2783.3H429.0M415.0 2566.2H429.0M415.0 2349.1H429.0M415.0 2131.9H429.0"/>
<rect x="415.0" y="2023.3" width="1761.6" height="1411.5" fill="none" stroke="#000" stroke-width="6"/>
<g font-weight="bold" font-size="81" text-anchor="end">
<text x="385" y="3349.4">0</text>
<text x="385" y="3132.3">2</text>
<text x="385" y="2915.1">4</text>
<text x="385" y="2698.0">6</text>
<text x="385" y="2480.8">8</text>
<text x="385" y="2263.7">10</text>
<text x="385" y="2046.6">12</text>
</g>
<g font-weight="bold" font-size="87" text-anchor="middle">
<text x="550.5" y="3532.4">0</text>
<text x="821.5" y="3532.4">2</text>
<text x="1092.5" y="3532.4">4</text>
<text x="1363.5" y="3532.4">6</text>
<text x="1634.5" y="3532.4">8</text>
<text x="1905.5" y="3532.4">10</text>
<text x="2176.5" y="3532.4">12</text>
</g>
<text font-weight="bold" font-size="87" text-anchor="middle" x="1294.8" y="3683.8">Z<tspan font-style="italic" dx="-4">′</tspan> (kΩ·cm<tspan font-size="52" dy="-40">2</tspan><tspan dy="40">)</tspan></text>
<text font-weight="bold" font-size="87" text-anchor="middle" transform="translate(261.8 2730.1) rotate(-90)"><tspan font-weight="normal" font-size="80">−</tspan><tspan dx="-7">Z</tspan><tspan font-style="italic" dx="-3">″</tspan> (kΩ·cm<tspan font-size="52" dy="-40">2</tspan><tspan dy="40">)</tspan></text>
<g stroke="#808080" stroke-width="4" fill="#fff" stroke-linejoin="miter"><rect x="542.4" y="3307.4" width="31.2" height="31.2"/><rect x="554.6" y="3309.6" width="31.2" height="31.2"/><rect x="554.6" y="3309.0" width="31.2" height="31.2"/><rect x="554.7" y="3308.2" width="31.2" height="31.2"/><rect x="554.7" y="3307.2" width="31.2" height="31.2"/><rect x="554.8" y="3305.9" width="31.2" height="31.2"/><rect x="555.0" y="3304.2" width="31.2" height="31.2"/><rect x="555.1" y="3301.9" width="31.2" height="31.2"/><rect x="555.4" y="3298.9" width="31.2" height="31.2"/><rect x="555.8" y="3295.0" width="31.2" height="31.2"/><rect x="557.0" y="3289.9" width="31.2" height="31.2"/><rect x="559.0" y="3279.9" width="31.2" height="31.2"/><rect x="562.0" y="3267.9" width="31.2" height="31.2"/><rect x="566.4" y="3252.9" width="31.2" height="31.2"/><rect x="573.4" y="3234.0" width="31.2" height="31.2"/><rect x="583.4" y="3212.0" width="31.2" height="31.2"/><rect x="598.8" y="3181.9" width="31.2" height="31.2"/><rect x="624.1" y="3142.0" width="31.2" height="31.2"/><rect x="661.4" y="3092.1" width="31.2" height="31.2"/><rect x="714.9" y="3037.2" width="31.2" height="31.2"/><rect x="791.6" y="2973.2" width="31.2" height="31.2"/><rect x="886.5" y="2916.6" width="31.2" height="31.2"/><rect x="1011.7" y="2855.0" width="31.2" height="31.2"/><rect x="1155.3" y="2814.3" width="31.2" height="31.2"/><rect x="1318.2" y="2779.3" width="31.2" height="31.2"/><rect x="1493.0" y="2760.3" width="31.2" height="31.2"/><rect x="1847.4" y="2784.8" width="31.2" height="31.2"/><rect x="2000.0" y="2838.0" width="31.2" height="31.2"/></g>
<path d="M570.0 3327.0 L570.1 3326.0 L570.2 3324.7 L570.3 3323.2 L570.4 3321.6 L570.6 3319.8 L570.7 3317.9 L570.9 3315.9 L571.1 3313.9 L571.3 3311.8 L571.5 3309.8 L571.7 3307.9 L572.0 3306.0 L572.3 3304.2 L572.6 3302.3 L572.9 3300.4 L573.3 3298.5 L573.7 3296.6 L574.1 3294.7 L574.5 3292.8 L574.9 3290.9 L575.3 3289.1 L575.7 3287.3 L576.1 3285.6 L576.5 3284.0 L576.9 3282.5 L577.2 3281.1 L577.6 3279.7 L577.9 3278.5 L578.2 3277.3 L578.6 3276.1 L578.9 3274.9 L579.3 3273.7 L579.7 3272.5 L580.1 3271.2 L580.5 3269.9 L581.0 3268.5 L581.5 3267.1 L582.0 3265.6 L582.5 3264.1 L583.0 3262.6 L583.6 3261.0 L584.2 3259.5 L584.7 3257.9 L585.4 3256.3 L586.0 3254.6 L586.6 3253.0 L587.3 3251.3 L588.0 3249.6 L588.7 3247.9 L589.4 3246.2 L590.2 3244.5 L590.9 3242.7 L591.7 3241.0 L592.5 3239.2 L593.3 3237.4 L594.2 3235.5 L595.1 3233.6 L596.0 3231.7 L597.0 3229.7 L598.0 3227.6 L599.0 3225.5 L600.1 3223.3 L601.2 3221.2 L602.3 3218.9 L603.5 3216.7 L604.7 3214.4 L605.9 3212.0 L607.2 3209.5 L608.6 3207.0 L610.0 3204.4 L611.5 3201.8 L613.0 3199.0 L614.6 3196.1 L616.3 3193.1 L618.0 3190.0 L619.8 3186.7 L621.7 3183.4 L623.6 3180.1 L625.5 3176.7 L627.5 3173.3 L629.6 3169.9 L631.7 3166.6 L633.8 3163.2 L636.0 3160.0 L638.3 3156.8 L640.7 3153.5 L643.2 3150.1 L645.7 3146.8 L648.3 3143.5 L650.9 3140.2 L653.6 3136.9 L656.2 3133.7 L658.8 3130.6 L661.3 3127.6 L663.7 3124.7 L666.0 3122.0 L668.1 3119.5 L670.0 3117.2 L671.8 3115.1 L673.5 3113.2 L675.1 3111.3 L676.7 3109.5 L678.4 3107.7 L680.2 3105.7 L682.2 3103.6 L684.5 3101.4 L687.0 3098.8 L689.9 3096.0 L693.1 3093.0 L696.4 3089.8 L699.8 3086.6 L703.5 3083.3 L707.3 3079.8 L711.3 3076.1 L715.5 3072.3 L719.9 3068.3 L724.5 3064.0 L729.4 3059.6 L734.5 3054.8 L739.9 3049.8 L745.6 3044.4 L751.7 3038.4 L758.1 3032.1 L764.7 3025.4 L771.6 3018.5 L778.7 3011.5 L785.9 3004.5 L793.1 2997.5 L800.4 2990.7 L807.6 2984.1 L814.8 2977.8 L821.8 2972.0 L828.8 2966.5 L835.8 2961.2 L842.9 2956.0 L850.0 2951.1 L857.1 2946.2 L864.3 2941.5 L871.4 2937.0 L878.5 2932.5 L885.6 2928.2 L892.6 2924.0 L899.5 2920.0 L906.4 2916.0 L913.1 2912.2 L919.6 2908.7 L926.0 2905.4 L932.2 2902.3 L938.4 2899.3 L944.7 2896.4 L951.0 2893.5 L957.4 2890.6 L964.1 2887.7 L970.9 2884.6 L978.1 2881.4 L985.7 2878.0 L993.7 2874.3 L1002.3 2870.4 L1011.3 2866.3 L1020.5 2862.1 L1030.0 2857.9 L1039.5 2853.6 L1049.0 2849.4 L1058.4 2845.3 L1067.5 2841.5 L1076.4 2837.8 L1084.8 2834.5 L1092.6 2831.5 L1099.9 2828.9 L1106.9 2826.6 L1113.6 2824.5 L1120.0 2822.7 L1126.1 2821.1 L1132.1 2819.6 L1138.0 2818.2 L1143.7 2816.9 L1149.4 2815.6 L1155.1 2814.3 L1160.8 2813.0 L1166.6 2811.6 L1172.3 2810.2 L1177.7 2808.8 L1183.0 2807.5 L1188.1 2806.2 L1193.2 2805.0 L1198.3 2803.8 L1203.5 2802.6 L1208.8 2801.4 L1214.4 2800.2 L1220.3 2799.0 L1226.5 2797.8 L1233.2 2796.6 L1240.4 2795.3 L1248.1 2794.0 L1256.2 2792.6 L1264.6 2791.2 L1273.3 2789.8 L1282.1 2788.5 L1291.0 2787.1 L1299.8 2785.9 L1308.5 2784.6 L1317.0 2783.5 L1325.3 2782.5 L1333.1 2781.6 L1340.6 2780.8 L1347.8 2780.1 L1354.9 2779.4 L1361.8 2778.8 L1368.5 2778.3 L1375.2 2777.8 L1381.9 2777.4 L1388.6 2777.1 L1395.3 2776.8 L1402.2 2776.7 L1409.2 2776.6 L1416.4 2776.6 L1423.7 2776.7 L1430.9 2776.8 L1438.0 2776.9 L1445.2 2777.1 L1452.5 2777.5 L1459.8 2777.8 L1467.3 2778.3 L1475.0 2778.9 L1482.9 2779.6 L1491.2 2780.4 L1499.7 2781.4 L1508.6 2782.5 L1517.9 2783.7 L1527.5 2785.1 L1537.5 2786.6 L1547.7 2788.2 L1558.2 2789.9 L1568.9 2791.7 L1579.7 2793.6 L1590.7 2795.6 L1601.7 2797.8 L1612.8 2800.1 L1623.8 2802.4 L1634.9 2804.9 L1646.0 2807.5 L1657.3 2810.2 L1668.8 2813.1 L1680.3 2816.1 L1691.9 2819.2 L1703.6 2822.4 L1715.3 2825.7 L1727.0 2829.1 L1738.7 2832.5 L1750.3 2836.0 L1761.8 2839.6 L1773.1 2843.2 L1784.5 2846.9 L1796.2 2850.9 L1808.0 2855.0 L1819.9 2859.2 L1831.8 2863.4 L1843.5 2867.7 L1855.0 2872.0 L1866.1 2876.2 L1876.8 2880.4 L1887.0 2884.3 L1896.6 2888.1 L1905.4 2891.7 L1913.5 2895.0 L1920.9 2898.2 L1927.8 2901.2 L1934.1 2904.1 L1940.0 2906.8 L1945.5 2909.5 L1950.8 2912.2 L1955.9 2914.8 L1960.9 2917.4 L1965.8 2920.0 L1970.8 2922.7 L1975.9 2925.5 L1981.1 2928.4 L1986.5 2931.5 L1991.8 2934.7 L1997.1 2938.0 L2002.3 2941.2 L2007.3 2944.4 L2012.1 2947.5 L2016.5 2950.4 L2020.6 2953.1 L2024.2 2955.4 L2027.3 2957.5 L2029.9 2959.1" fill="none" stroke="#808080" stroke-width="6" stroke-linejoin="round"/>
<g stroke="#008000" stroke-width="4" fill="#fff" stroke-linejoin="miter"><circle cx="570.3" cy="3325.1" r="17.6"/><circle cx="570.3" cy="3324.5" r="17.6"/><circle cx="570.5" cy="3323.6" r="17.6"/><circle cx="570.6" cy="3322.4" r="17.6"/><circle cx="570.8" cy="3320.7" r="17.6"/><circle cx="571.1" cy="3318.5" r="17.6"/><circle cx="571.5" cy="3315.5" r="17.6"/><circle cx="572.1" cy="3311.5" r="17.6"/><circle cx="573.0" cy="3306.1" r="17.6"/><circle cx="574.4" cy="3298.8" r="17.6"/><circle cx="576.5" cy="3289.0" r="17.6"/><circle cx="580.5" cy="3276.0" r="17.6"/><circle cx="586.5" cy="3259.0" r="17.6"/><circle cx="594.0" cy="3234.5" r="17.6"/><circle cx="608.4" cy="3202.5" r="17.6"/><circle cx="627.9" cy="3164.5" r="17.6"/><circle cx="661.0" cy="3116.6" r="17.6"/><circle cx="707.2" cy="3060.4" r="17.6"/><circle cx="782.2" cy="2994.1" r="17.6"/><circle cx="888.4" cy="2925.5" r="17.6"/><circle cx="1029.8" cy="2868.2" r="17.6"/><circle cx="1199.2" cy="2831.5" r="17.6"/><circle cx="1385.4" cy="2830.5" r="17.6"/><circle cx="1563.3" cy="2860.5" r="17.6"/><circle cx="1712.5" cy="2916.5" r="17.6"/><circle cx="1820.9" cy="2990.4" r="17.6"/><circle cx="1899.8" cy="3064.6" r="17.6"/><circle cx="1947.0" cy="3127.5" r="17.6"/><circle cx="1978.7" cy="3182.9" r="17.6"/><circle cx="2004.7" cy="3217.9" r="17.6"/><circle cx="2008.0" cy="3269.6" r="17.6"/></g>
<path d="M570.0 3327.0 L570.1 3326.0 L570.3 3324.7 L570.5 3323.2 L570.7 3321.5 L571.0 3319.7 L571.2 3317.8 L571.5 3315.7 L571.8 3313.7 L572.1 3311.7 L572.4 3309.7 L572.7 3307.8 L573.0 3306.0 L573.3 3304.3 L573.6 3302.7 L573.9 3301.1 L574.2 3299.5 L574.5 3298.0 L574.9 3296.4 L575.2 3294.8 L575.6 3293.1 L576.0 3291.5 L576.5 3289.7 L577.0 3287.9 L577.5 3286.0 L578.1 3284.0 L578.8 3281.9 L579.5 3279.7 L580.2 3277.4 L581.0 3275.1 L581.8 3272.8 L582.6 3270.4 L583.4 3268.1 L584.2 3265.7 L585.0 3263.4 L585.8 3261.2 L586.5 3259.0 L587.2 3256.9 L587.8 3254.9 L588.3 3252.9 L588.9 3250.9 L589.4 3249.0 L589.9 3247.1 L590.5 3245.1 L591.0 3243.1 L591.7 3241.1 L592.4 3239.0 L593.1 3236.8 L594.0 3234.5 L594.9 3232.1 L595.9 3229.7 L597.0 3227.2 L598.1 3224.6 L599.3 3222.0 L600.5 3219.3 L601.7 3216.6 L603.0 3213.9 L604.3 3211.1 L605.6 3208.3 L607.0 3205.4 L608.4 3202.5 L609.9 3199.5 L611.4 3196.3 L613.0 3193.1 L614.7 3189.7 L616.4 3186.4 L618.1 3183.0 L619.8 3179.6 L621.5 3176.3 L623.2 3173.1 L624.8 3170.1 L626.4 3167.2 L627.9 3164.5 L629.3 3162.0 L630.6 3159.8 L631.9 3157.6 L633.2 3155.6 L634.4 3153.7 L635.6 3151.9 L636.8 3150.1 L637.9 3148.4 L639.2 3146.6 L640.4 3144.8 L641.7 3143.0 L643.0 3141.0 L644.3 3139.1 L645.5 3137.3 L646.5 3135.7 L647.6 3134.0 L648.7 3132.4 L649.8 3130.7 L651.1 3128.9 L652.5 3127.0 L654.1 3124.8 L656.0 3122.3 L658.1 3119.6 L660.6 3116.4 L663.4 3112.9 L666.4 3109.0 L669.5 3104.8 L672.9 3100.4 L676.5 3095.8 L680.3 3091.0 L684.3 3086.1 L688.5 3081.0 L692.9 3075.9 L697.5 3070.7 L702.2 3065.5 L707.2 3060.4 L712.5 3055.2 L718.3 3049.7 L724.4 3044.0 L730.7 3038.1 L737.3 3032.2 L744.0 3026.3 L750.7 3020.4 L757.4 3014.7 L764.0 3009.1 L770.4 3003.8 L776.5 2998.8 L782.2 2994.1 L787.6 2989.8 L792.9 2985.7 L798.0 2981.8 L803.0 2978.1 L807.9 2974.6 L812.7 2971.2 L817.3 2968.0 L821.9 2964.9 L826.4 2961.9 L830.9 2959.0 L835.4 2956.1 L839.8 2953.2 L844.1 2950.4 L848.2 2947.9 L852.1 2945.4 L855.9 2943.1 L859.7 2940.9 L863.4 2938.7 L867.2 2936.6 L871.1 2934.5 L875.1 2932.3 L879.3 2930.1 L883.7 2927.9 L888.4 2925.5 L893.4 2923.0 L898.5 2920.5 L903.9 2917.9 L909.4 2915.3 L915.1 2912.7 L920.9 2910.0 L926.7 2907.4 L932.6 2904.8 L938.6 2902.2 L944.5 2899.7 L950.5 2897.3 L956.4 2894.9 L962.2 2892.6 L968.0 2890.4 L973.6 2888.3 L979.3 2886.2 L985.0 2884.2 L990.8 2882.2 L996.7 2880.2 L1002.8 2878.2 L1009.1 2876.1 L1015.7 2874.1 L1022.5 2872.0 L1029.7 2869.9 L1037.4 2867.7 L1045.6 2865.4 L1054.3 2863.0 L1063.4 2860.5 L1072.6 2858.0 L1081.9 2855.6 L1091.2 2853.2 L1100.4 2850.9 L1109.3 2848.7 L1117.8 2846.7 L1125.8 2844.8 L1133.2 2843.2 L1140.0 2841.8 L1146.2 2840.5 L1151.9 2839.4 L1157.3 2838.4 L1162.5 2837.5 L1167.4 2836.8 L1172.3 2836.1 L1177.3 2835.5 L1182.3 2834.9 L1187.6 2834.3 L1193.2 2833.8 L1199.2 2833.2 L1205.5 2832.6 L1211.9 2832.1 L1218.5 2831.6 L1225.2 2831.2 L1232.0 2830.8 L1238.9 2830.4 L1245.9 2830.1 L1253.1 2829.8 L1260.4 2829.6 L1267.8 2829.4 L1275.4 2829.3 L1283.1 2829.2 L1291.1 2829.2 L1299.6 2829.2 L1308.5 2829.3 L1317.6 2829.5 L1326.8 2829.7 L1336.1 2830.0 L1345.2 2830.3 L1354.2 2830.6 L1362.7 2830.9 L1370.9 2831.3 L1378.5 2831.8 L1385.4 2832.2 L1391.6 2832.7 L1397.2 2833.2 L1402.3 2833.7 L1406.9 2834.3 L1411.3 2834.8 L1415.3 2835.5 L1419.3 2836.1 L1423.2 2836.8 L1427.1 2837.6 L1431.1 2838.3 L1435.4 2839.2 L1440.0 2840.0 L1444.8 2840.9 L1449.6 2841.9 L1454.5 2842.9 L1459.5 2843.9 L1464.4 2845.0 L1469.4 2846.1 L1474.5 2847.3 L1479.5 2848.4 L1484.6 2849.6 L1489.7 2850.7 L1494.8 2851.9 L1500.0 2853.0 L1505.2 2854.1 L1510.3 2855.1 L1515.5 2856.2 L1520.7 2857.2 L1526.0 2858.2 L1531.3 2859.2 L1536.6 2860.3 L1541.9 2861.4 L1547.3 2862.6 L1552.8 2863.9 L1558.3 2865.4 L1563.9 2866.9 L1569.5 2868.6 L1575.2 2870.3 L1581.0 2872.2 L1586.8 2874.1 L1592.6 2876.1 L1598.5 2878.2 L1604.5 2880.3 L1610.5 2882.5 L1616.5 2884.8 L1622.6 2887.1 L1628.7 2889.5 L1634.9 2891.9 L1641.2 2894.4 L1647.8 2897.0 L1654.6 2899.8 L1661.5 2902.6 L1668.4 2905.5 L1675.3 2908.4 L1682.2 2911.3 L1688.9 2914.3 L1695.3 2917.2 L1701.5 2920.0 L1707.4 2922.8 L1712.8 2925.5 L1717.8 2928.1 L1722.5 2930.7 L1726.9 2933.2 L1731.0 2935.7 L1734.9 2938.2 L1738.6 2940.7 L1742.2 2943.1 L1745.7 2945.5 L1749.2 2947.9 L1752.7 2950.4 L1756.3 2952.8 L1760.0 2955.2 L1763.8 2957.7 L1767.7 2960.2 L1771.7 2962.8 L1775.6 2965.4 L1779.5 2968.0 L1783.4 2970.6 L1787.2 2973.1 L1790.8 2975.5 L1794.2 2977.8 L1797.4 2980.0 L1800.4 2982.0 L1803.1 2983.9 L1805.4 2985.5 L1807.3 2986.9 L1808.9 2988.0 L1810.2 2989.0 L1811.3 2989.8 L1812.4 2990.6 L1813.4 2991.5 L1814.5 2992.3 L1815.7 2993.3 L1817.0 2994.5 L1818.7 2995.9 L1820.7 2997.5 L1823.0 2999.4 L1825.6 3001.5 L1828.3 3003.8 L1831.2 3006.3 L1834.3 3008.8 L1837.4 3011.4 L1840.6 3014.1 L1843.8 3016.8 L1846.9 3019.5 L1850.0 3022.1 L1853.0 3024.7 L1855.9 3027.1 L1858.7 3029.5 L1861.7 3032.0 L1864.6 3034.4 L1867.5 3036.9 L1870.5 3039.4 L1873.4 3041.9 L1876.1 3044.2 L1878.8 3046.5 L1881.4 3048.7 L1883.8 3050.7 L1885.9 3052.6 L1887.9 3054.3 L1889.5 3055.6 L1890.7 3056.5 L1891.5 3057.0 L1892.1 3057.3 L1892.5 3057.5 L1893.0 3057.7 L1893.4 3058.0 L1894.0 3058.5 L1894.9 3059.4 L1896.1 3060.8 L1897.7 3062.8 L1899.9 3065.5 L1902.6 3069.0 L1905.9 3073.1 L1909.6 3077.8 L1913.6 3082.9 L1917.8 3088.4 L1922.2 3094.2 L1926.7 3100.1 L1931.1 3106.1 L1935.5 3112.0 L1939.6 3117.7 L1943.5 3123.2 L1947.0 3128.3 L1950.2 3133.2 L1953.2 3137.9 L1956.1 3142.7 L1958.9 3147.3 L1961.6 3151.9 L1964.1 3156.5 L1966.6 3161.0 L1969.1 3165.4 L1971.5 3169.8 L1973.9 3174.2 L1976.3 3178.6 L1978.7 3182.9 L1981.2 3187.3 L1983.7 3192.0 L1986.3 3196.7 L1988.9 3201.5 L1991.5 3206.2 L1993.9 3210.8 L1996.3 3215.2 L1998.5 3219.4 L2000.6 3223.2 L2002.4 3226.6 L2003.9 3229.6 L2005.2 3231.9" fill="none" stroke="#008000" stroke-width="6.4" stroke-linejoin="round"/>
<g stroke="#8000ff" stroke-width="4.8" fill="#fff" stroke-linejoin="miter"><path d="M565.7 3298.7 L585.0 3332.8 L546.4 3332.8 Z"/><path d="M565.9 3298.2 L585.2 3332.3 L546.6 3332.3 Z"/><path d="M566.2 3297.6 L585.5 3331.7 L546.9 3331.7 Z"/><path d="M566.6 3296.8 L585.9 3330.9 L547.3 3330.9 Z"/><path d="M567.0 3295.7 L586.3 3329.8 L547.7 3329.8 Z"/><path d="M567.6 3294.3 L586.9 3328.4 L548.3 3328.4 Z"/><path d="M568.4 3292.5 L587.7 3326.6 L549.1 3326.6 Z"/><path d="M569.4 3290.2 L588.7 3324.3 L550.1 3324.3 Z"/><path d="M570.7 3287.2 L590.0 3321.3 L551.4 3321.3 Z"/><path d="M572.5 3283.3 L591.8 3317.4 L553.2 3317.4 Z"/><path d="M575.0 3278.3 L594.3 3312.4 L555.7 3312.4 Z"/><path d="M578.4 3272.0 L597.7 3306.1 L559.1 3306.1 Z"/><path d="M583.3 3263.9 L602.6 3298.0 L564.0 3298.0 Z"/><path d="M590.0 3253.7 L609.3 3287.8 L570.7 3287.8 Z"/><path d="M599.0 3240.7 L618.3 3274.8 L579.7 3274.8 Z"/><path d="M611.0 3224.8 L630.3 3258.9 L591.7 3258.9 Z"/><path d="M631.9 3204.8 L651.2 3238.9 L612.6 3238.9 Z"/><path d="M661.3 3183.7 L680.6 3217.8 L642.0 3217.8 Z"/><path d="M701.2 3162.8 L720.5 3196.9 L681.9 3196.9 Z"/><path d="M751.3 3145.9 L770.6 3180.0 L732.0 3180.0 Z"/><path d="M806.5 3137.8 L825.8 3171.9 L787.2 3171.9 Z"/><path d="M867.7 3137.9 L887.0 3172.0 L848.4 3172.0 Z"/><path d="M973.2 3172.3 L992.5 3206.4 L953.9 3206.4 Z"/><path d="M1011.9 3195.6 L1031.2 3229.7 L992.6 3229.7 Z"/><path d="M1037.8 3218.3 L1057.1 3252.4 L1018.5 3252.4 Z"/><path d="M1048.4 3236.9 L1067.7 3271.0 L1029.1 3271.0 Z"/><path d="M1059.9 3252.9 L1079.2 3287.0 L1040.6 3287.0 Z"/><path d="M1071.9 3273.8 L1091.2 3307.9 L1052.6 3307.9 Z"/></g>
<path d="M565.0 3322.0 L565.5 3320.8 L566.2 3319.4 L566.9 3317.7 L567.7 3315.7 L568.7 3313.6 L569.6 3311.4 L570.6 3309.1 L571.7 3306.8 L572.8 3304.5 L573.9 3302.2 L574.9 3300.0 L576.0 3298.0 L577.1 3296.1 L578.2 3294.1 L579.3 3292.1 L580.5 3290.2 L581.7 3288.2 L582.9 3286.3 L584.1 3284.4 L585.3 3282.5 L586.5 3280.7 L587.7 3278.8 L588.9 3277.1 L590.0 3275.4 L591.1 3273.8 L592.2 3272.2 L593.2 3270.7 L594.3 3269.2 L595.3 3267.8 L596.3 3266.4 L597.4 3265.0 L598.4 3263.7 L599.5 3262.3 L600.6 3260.9 L601.8 3259.5 L603.0 3258.0 L604.2 3256.5 L605.5 3255.1 L606.7 3253.7 L607.9 3252.3 L609.1 3250.8 L610.4 3249.4 L611.8 3248.0 L613.2 3246.5 L614.7 3244.9 L616.4 3243.4 L618.1 3241.7 L620.0 3240.0 L622.0 3238.2 L624.1 3236.3 L626.3 3234.4 L628.6 3232.4 L631.0 3230.4 L633.5 3228.4 L636.1 3226.3 L638.7 3224.2 L641.4 3222.1 L644.2 3220.1 L647.0 3218.0 L649.9 3216.0 L652.9 3214.0 L656.0 3211.9 L659.2 3209.9 L662.5 3207.8 L665.9 3205.7 L669.3 3203.6 L672.7 3201.6 L676.2 3199.6 L679.7 3197.6 L683.1 3195.7 L686.5 3193.8 L689.9 3192.0 L693.2 3190.3 L696.6 3188.6 L699.9 3186.9 L703.2 3185.3 L706.6 3183.7 L709.9 3182.1 L713.2 3180.6 L716.6 3179.2 L719.9 3177.8 L723.2 3176.5 L726.6 3175.2 L729.9 3174.0 L733.2 3172.9 L736.6 3171.8 L740.0 3170.8 L743.4 3169.9 L746.7 3169.0 L750.1 3168.1 L753.5 3167.3 L756.8 3166.6 L760.1 3165.9 L763.4 3165.2 L766.7 3164.6 L769.9 3164.0 L773.0 3163.4 L775.9 3162.9 L778.7 3162.4 L781.4 3162.0 L784.1 3161.6 L786.9 3161.2 L789.7 3160.9 L792.6 3160.6 L795.7 3160.4 L799.0 3160.2 L802.6 3160.1 L806.5 3160.0 L810.7 3159.9 L815.2 3159.8 L819.8 3159.8 L824.7 3159.7 L829.8 3159.7 L834.9 3159.8 L840.3 3159.9 L845.7 3160.2 L851.2 3160.6 L856.7 3161.1 L862.2 3161.8 L867.8 3162.6 L873.5 3163.7 L879.4 3164.9 L885.5 3166.3 L891.7 3167.9 L898.0 3169.6 L904.3 3171.4 L910.6 3173.3 L916.8 3175.2 L922.9 3177.1 L928.7 3179.0 L934.4 3180.8 L939.7 3182.6 L944.8 3184.3 L949.7 3186.0 L954.5 3187.7 L959.1 3189.4 L963.6 3191.1 L968.0 3192.8 L972.2 3194.6 L976.3 3196.4 L980.4 3198.2 L984.3 3200.0 L988.1 3201.9 L991.9 3203.9 L995.5 3205.9 L999.0 3208.0 L1002.4 3210.1 L1005.6 3212.3 L1008.8 3214.5 L1011.8 3216.8 L1014.8 3219.0 L1017.7 3221.3 L1020.6 3223.6 L1023.5 3225.9 L1026.3 3228.3 L1029.2 3230.6 L1032.1 3233.0 L1035.0 3235.4 L1037.8 3237.8 L1040.7 3240.3 L1043.5 3242.8 L1046.2 3245.3 L1048.9 3247.8 L1051.5 3250.2 L1054.1 3252.7 L1056.5 3255.1 L1058.9 3257.5 L1061.2 3259.9 L1063.4 3262.3 L1065.6 3264.8 L1067.8 3267.4 L1069.9 3270.0 L1071.9 3272.5 L1073.9 3275.0 L1075.7 3277.4 L1077.4 3279.7 L1078.9 3281.8 L1080.3 3283.6 L1081.5 3285.2 L1082.5 3286.5" fill="none" stroke="#8000ff" stroke-width="6.4" stroke-linejoin="round"/>
<g stroke="#000080" stroke-width="4" fill="none" stroke-linejoin="miter"><path d="M550.4 3325.4H590.4M570.4 3305.4V3345.4"/><path stroke-width="5" d="M550.4 3305.4L590.4 3345.4M550.4 3345.4L590.4 3305.4"/><path d="M550.5 3325.1H590.5M570.5 3305.1V3345.1"/><path stroke-width="5" d="M550.5 3305.1L590.5 3345.1M550.5 3345.1L590.5 3305.1"/><path d="M550.6 3324.6H590.6M570.6 3304.6V3344.6"/><path stroke-width="5" d="M550.6 3304.6L590.6 3344.6M550.6 3344.6L590.6 3304.6"/><path d="M550.7 3324.1H590.7M570.7 3304.1V3344.1"/><path stroke-width="5" d="M550.7 3304.1L590.7 3344.1M550.7 3344.1L590.7 3304.1"/><path d="M550.8 3323.5H590.8M570.8 3303.5V3343.5"/><path stroke-width="5" d="M550.8 3303.5L590.8 3343.5M550.8 3343.5L590.8 3303.5"/><path d="M551.0 3322.7H591.0M571.0 3302.7V3342.7"/><path stroke-width="5" d="M551.0 3302.7L591.0 3342.7M551.0 3342.7L591.0 3302.7"/><path d="M551.2 3321.7H591.2M571.2 3301.7V3341.7"/><path stroke-width="5" d="M551.2 3301.7L591.2 3341.7M551.2 3341.7L591.2 3301.7"/><path d="M551.5 3320.6H591.5M571.5 3300.6V3340.6"/><path stroke-width="5" d="M551.5 3300.6L591.5 3340.6M551.5 3340.6L591.5 3300.6"/><path d="M551.8 3319.2H591.8M571.8 3299.2V3339.2"/><path stroke-width="5" d="M551.8 3299.2L591.8 3339.2M551.8 3339.2L591.8 3299.2"/><path d="M552.2 3317.5H592.2M572.2 3297.5V3337.5"/><path stroke-width="5" d="M552.2 3297.5L592.2 3337.5M552.2 3337.5L592.2 3297.5"/><path d="M552.7 3315.4H592.7M572.7 3295.4V3335.4"/><path stroke-width="5" d="M552.7 3295.4L592.7 3335.4M552.7 3335.4L592.7 3295.4"/><path d="M553.2 3312.8H593.2M573.2 3292.8V3332.8"/><path stroke-width="5" d="M553.2 3292.8L593.2 3332.8M553.2 3332.8L593.2 3292.8"/><path d="M554.0 3309.7H594.0M574.0 3289.7V3329.7"/><path stroke-width="5" d="M554.0 3289.7L594.0 3329.7M554.0 3329.7L594.0 3289.7"/><path d="M554.9 3305.9H594.9M574.9 3285.9V3325.9"/><path stroke-width="5" d="M554.9 3285.9L594.9 3325.9M554.9 3325.9L594.9 3285.9"/><path d="M556.0 3301.3H596.0M576.0 3281.3V3321.3"/><path stroke-width="5" d="M556.0 3281.3L596.0 3321.3M556.0 3321.3L596.0 3281.3"/><path d="M557.5 3295.7H597.5M577.5 3275.7V3315.7"/><path stroke-width="5" d="M557.5 3275.7L597.5 3315.7M557.5 3315.7L597.5 3275.7"/><path d="M559.7 3288.9H599.7M579.7 3268.9V3308.9"/><path stroke-width="5" d="M559.7 3268.9L599.7 3308.9M559.7 3308.9L599.7 3268.9"/><path d="M563.7 3281.1H603.7M583.7 3261.1V3301.1"/><path stroke-width="5" d="M563.7 3261.1L603.7 3301.1M563.7 3301.1L603.7 3261.1"/><path d="M572.0 3272.9H612.0M592.0 3252.9V3292.9"/><path stroke-width="5" d="M572.0 3252.9L612.0 3292.9M572.0 3292.9L612.0 3252.9"/><path d="M585.0 3263.9H625.0M605.0 3243.9V3283.9"/><path stroke-width="5" d="M585.0 3243.9L625.0 3283.9M585.0 3283.9L625.0 3243.9"/><path d="M600.0 3254.9H640.0M620.0 3234.9V3274.9"/><path stroke-width="5" d="M600.0 3234.9L640.0 3274.9M600.0 3274.9L640.0 3234.9"/><path d="M617.9 3245.9H657.9M637.9 3225.9V3265.9"/><path stroke-width="5" d="M617.9 3225.9L657.9 3265.9M617.9 3265.9L657.9 3225.9"/><path d="M639.0 3236.5H679.0M659.0 3216.5V3256.5"/><path stroke-width="5" d="M639.0 3216.5L679.0 3256.5M639.0 3256.5L679.0 3216.5"/><path d="M666.5 3227.0H706.5M686.5 3207.0V3247.0"/><path stroke-width="5" d="M666.5 3207.0L706.5 3247.0M666.5 3247.0L706.5 3207.0"/><path d="M699.2 3222.0H739.2M719.2 3202.0V3242.0"/><path stroke-width="5" d="M699.2 3202.0L739.2 3242.0M699.2 3242.0L739.2 3202.0"/><path d="M734.7 3220.4H774.7M754.7 3200.4V3240.4"/><path stroke-width="5" d="M734.7 3200.4L774.7 3240.4M734.7 3240.4L774.7 3200.4"/><path d="M769.8 3222.9H809.8M789.8 3202.9V3242.9"/><path stroke-width="5" d="M769.8 3202.9L809.8 3242.9M769.8 3242.9L809.8 3202.9"/><path d="M801.5 3230.3H841.5M821.5 3210.3V3250.3"/><path stroke-width="5" d="M801.5 3210.3L841.5 3250.3M801.5 3250.3L841.5 3210.3"/><path d="M835.4 3240.8H875.4M855.4 3220.8V3260.8"/><path stroke-width="5" d="M835.4 3220.8L875.4 3260.8M835.4 3260.8L875.4 3220.8"/><path d="M860.8 3253.0H900.8M880.8 3233.0V3273.0"/><path stroke-width="5" d="M860.8 3233.0L900.8 3273.0M860.8 3273.0L900.8 3233.0"/><path d="M872.6 3264.6H912.6M892.6 3244.6V3284.6"/><path stroke-width="5" d="M872.6 3244.6L912.6 3284.6M872.6 3284.6L912.6 3244.6"/><path d="M884.6 3276.6H924.6M904.6 3256.6V3296.6"/><path stroke-width="5" d="M884.6 3256.6L924.6 3296.6M884.6 3296.6L924.6 3256.6"/><path d="M893.0 3288.0H933.0M913.0 3268.0V3308.0"/><path stroke-width="5" d="M893.0 3268.0L933.0 3308.0M893.0 3308.0L933.0 3268.0"/><path d="M901.0 3300.0H941.0M921.0 3280.0V3320.0"/><path stroke-width="5" d="M901.0 3280.0L941.0 3320.0M901.0 3320.0L941.0 3280.0"/><path d="M903.0 3310.6H943.0M923.0 3290.6V3330.6"/><path stroke-width="5" d="M903.0 3290.6L943.0 3330.6M903.0 3330.6L943.0 3290.6"/><path d="M901.9 3319.9H941.9M921.9 3299.9V3339.9"/><path stroke-width="5" d="M901.9 3299.9L941.9 3339.9M901.9 3339.9L941.9 3299.9"/></g>
<path d="M570.0 3327.0 L570.5 3325.0 L571.1 3322.5 L571.8 3319.4 L572.5 3316.0 L573.4 3312.3 L574.2 3308.4 L575.2 3304.5 L576.1 3300.7 L577.1 3297.0 L578.1 3293.6 L579.1 3290.5 L580.0 3288.0 L580.9 3285.9 L581.9 3284.0 L582.8 3282.4 L583.8 3281.0 L584.8 3279.7 L585.8 3278.6 L586.8 3277.5 L587.9 3276.6 L588.9 3275.7 L589.9 3274.8 L591.0 3273.9 L592.0 3272.9 L593.0 3271.9 L594.1 3271.0 L595.1 3270.2 L596.2 3269.4 L597.2 3268.7 L598.3 3268.0 L599.4 3267.3 L600.5 3266.7 L601.6 3266.0 L602.7 3265.3 L603.8 3264.6 L605.0 3263.9 L606.2 3263.2 L607.4 3262.4 L608.5 3261.7 L609.7 3260.9 L611.0 3260.2 L612.2 3259.4 L613.4 3258.7 L614.7 3257.9 L616.0 3257.2 L617.3 3256.4 L618.6 3255.7 L620.0 3254.9 L621.4 3254.2 L622.8 3253.4 L624.2 3252.7 L625.6 3251.9 L627.1 3251.2 L628.6 3250.4 L630.1 3249.7 L631.6 3248.9 L633.1 3248.2 L634.7 3247.4 L636.3 3246.7 L637.9 3245.9 L639.5 3245.1 L641.2 3244.4 L642.8 3243.6 L644.5 3242.8 L646.1 3242.0 L647.8 3241.2 L649.6 3240.4 L651.4 3239.7 L653.2 3238.9 L655.1 3238.1 L657.0 3237.3 L659.0 3236.5 L661.1 3235.7 L663.2 3234.9 L665.3 3234.0 L667.5 3233.2 L669.7 3232.3 L672.0 3231.5 L674.3 3230.6 L676.7 3229.8 L679.1 3229.1 L681.5 3228.3 L684.0 3227.6 L686.5 3227.0 L689.0 3226.4 L691.6 3225.9 L694.2 3225.4 L696.9 3224.9 L699.6 3224.4 L702.4 3224.0 L705.1 3223.6 L707.9 3223.2 L710.7 3222.9 L713.5 3222.6 L716.4 3222.3 L719.2 3222.0 L722.1 3221.7 L725.0 3221.5 L727.9 3221.3 L730.8 3221.1 L733.8 3220.9 L736.8 3220.7 L739.8 3220.6 L742.8 3220.5 L745.8 3220.4 L748.8 3220.4 L751.7 3220.4 L754.7 3220.4 L757.6 3220.4 L760.6 3220.5 L763.6 3220.6 L766.6 3220.7 L769.5 3220.9 L772.5 3221.1 L775.4 3221.3 L778.4 3221.6 L781.3 3221.8 L784.2 3222.2 L787.0 3222.5 L789.8 3222.9 L792.6 3223.3 L795.3 3223.8 L797.9 3224.3 L800.5 3224.9 L803.1 3225.5 L805.7 3226.1 L808.3 3226.7 L810.9 3227.4 L813.5 3228.1 L816.1 3228.8 L818.8 3229.6 L821.5 3230.3 L824.3 3231.1 L827.1 3231.9 L830.0 3232.7 L833.0 3233.5 L835.9 3234.4 L838.8 3235.2 L841.8 3236.1 L844.6 3237.1 L847.5 3238.0 L850.2 3238.9 L852.9 3239.9 L855.4 3240.8 L857.8 3241.7 L860.1 3242.6 L862.4 3243.5 L864.6 3244.3 L866.7 3245.2 L868.7 3246.1 L870.8 3247.0 L872.8 3248.0 L874.8 3249.1 L876.8 3250.3 L878.8 3251.6 L880.8 3253.0 L882.9 3254.6 L884.9 3256.3 L887.0 3258.1 L889.1 3260.0 L891.2 3262.0 L893.3 3264.1 L895.3 3266.2 L897.3 3268.3 L899.2 3270.4 L901.1 3272.5 L902.9 3274.6 L904.6 3276.6 L906.3 3278.6 L908.0 3280.8 L909.6 3283.0 L911.2 3285.3 L912.8 3287.5 L914.3 3289.8 L915.7 3291.9 L917.0 3293.9 L918.2 3295.8 L919.3 3297.5 L920.2 3298.9 L921.0 3300.0" fill="none" stroke="#000080" stroke-width="6" stroke-linejoin="round"/>
<g stroke="#0000ff" stroke-width="3.8" fill="#fff" stroke-linejoin="round"><path d="M570.2 3307.4 L574.4 3320.3 L588.0 3320.3 L577.1 3328.3 L581.2 3341.2 L570.2 3333.3 L559.2 3341.2 L563.4 3328.3 L552.4 3320.3 L566.0 3320.3 Z"/><path d="M570.2 3307.4 L574.5 3320.3 L588.0 3320.3 L577.1 3328.3 L581.2 3341.2 L570.2 3333.3 L559.2 3341.2 L563.4 3328.3 L552.4 3320.3 L566.0 3320.3 Z"/><path d="M570.3 3307.4 L574.5 3320.2 L588.0 3320.3 L577.1 3328.3 L581.2 3341.2 L570.3 3333.3 L559.3 3341.2 L563.4 3328.3 L552.5 3320.3 L566.0 3320.2 Z"/><path d="M570.3 3307.3 L574.5 3320.2 L588.1 3320.2 L577.1 3328.2 L581.3 3341.1 L570.3 3333.2 L559.3 3341.1 L563.4 3328.2 L552.5 3320.2 L566.0 3320.2 Z"/><path d="M570.3 3307.3 L574.5 3320.1 L588.1 3320.2 L577.2 3328.2 L581.3 3341.1 L570.3 3333.2 L559.3 3341.1 L563.5 3328.2 L552.5 3320.2 L566.1 3320.1 Z"/><path d="M570.4 3307.2 L574.6 3320.1 L588.1 3320.1 L577.2 3328.1 L581.3 3341.0 L570.4 3333.1 L559.4 3341.0 L563.5 3328.1 L552.6 3320.1 L566.1 3320.1 Z"/><path d="M570.4 3307.1 L574.6 3320.0 L588.2 3320.1 L577.3 3328.1 L581.4 3341.0 L570.4 3333.0 L559.4 3341.0 L563.6 3328.1 L552.6 3320.1 L566.2 3320.0 Z"/><path d="M570.5 3307.1 L574.7 3319.9 L588.3 3320.0 L577.3 3328.0 L581.5 3340.9 L570.5 3333.0 L559.5 3340.9 L563.6 3328.0 L552.7 3320.0 L566.2 3319.9 Z"/><path d="M570.5 3307.0 L574.8 3319.8 L588.3 3319.9 L577.4 3327.9 L581.5 3340.8 L570.5 3332.9 L559.6 3340.8 L563.7 3327.9 L552.8 3319.9 L566.3 3319.8 Z"/><path d="M570.6 3306.8 L574.9 3319.7 L588.4 3319.7 L577.5 3327.7 L581.6 3340.6 L570.6 3332.7 L559.7 3340.6 L563.8 3327.7 L552.9 3319.7 L566.4 3319.7 Z"/><path d="M570.8 3306.7 L575.0 3319.5 L588.6 3319.6 L577.6 3327.6 L581.8 3340.5 L570.8 3332.6 L559.8 3340.5 L563.9 3327.6 L553.0 3319.6 L566.5 3319.5 Z"/><path d="M570.9 3306.5 L575.2 3319.3 L588.7 3319.4 L577.8 3327.4 L581.9 3340.3 L570.9 3332.4 L559.9 3340.3 L564.1 3327.4 L553.1 3319.4 L566.7 3319.3 Z"/><path d="M571.1 3306.2 L575.3 3319.1 L588.9 3319.1 L578.0 3327.1 L582.1 3340.0 L571.1 3332.1 L560.1 3340.0 L564.3 3327.1 L553.3 3319.1 L566.9 3319.1 Z"/><path d="M571.3 3305.9 L575.6 3318.8 L589.1 3318.8 L578.2 3326.8 L582.3 3339.7 L571.3 3331.8 L560.4 3339.7 L564.5 3326.8 L553.6 3318.8 L567.1 3318.8 Z"/><path d="M571.6 3305.5 L575.9 3318.4 L589.4 3318.4 L578.5 3326.4 L582.6 3339.3 L571.6 3331.4 L560.7 3339.3 L564.8 3326.4 L553.9 3318.4 L567.4 3318.4 Z"/><path d="M572.0 3305.0 L576.2 3317.9 L589.8 3317.9 L578.9 3325.9 L583.0 3338.8 L572.0 3330.9 L561.0 3338.8 L565.2 3325.9 L554.2 3317.9 L567.8 3317.9 Z"/><path d="M572.5 3304.4 L576.7 3317.3 L590.3 3317.3 L579.3 3325.3 L583.5 3338.2 L572.5 3330.3 L561.5 3338.2 L565.6 3325.3 L554.7 3317.3 L568.2 3317.3 Z"/><path d="M573.1 3303.7 L577.3 3316.6 L590.8 3316.6 L579.9 3324.6 L584.1 3337.5 L573.1 3329.6 L562.1 3337.5 L566.2 3324.6 L555.3 3316.6 L568.8 3316.6 Z"/><path d="M573.8 3302.8 L578.0 3315.7 L591.6 3315.7 L580.6 3323.7 L584.8 3336.6 L573.8 3328.7 L562.8 3336.6 L566.9 3323.7 L556.0 3315.7 L569.6 3315.7 Z"/><path d="M574.7 3301.7 L578.9 3314.5 L592.5 3314.6 L581.6 3322.6 L585.7 3335.5 L574.7 3327.6 L563.7 3335.5 L567.9 3322.6 L556.9 3314.6 L570.5 3314.5 Z"/><path d="M575.9 3300.3 L580.1 3313.2 L593.6 3313.2 L582.7 3321.2 L586.9 3334.1 L575.9 3326.2 L564.9 3334.1 L569.0 3321.2 L558.1 3313.2 L571.6 3313.2 Z"/><path d="M577.3 3298.7 L581.5 3311.5 L595.1 3311.6 L584.2 3319.6 L588.3 3332.5 L577.3 3324.6 L566.3 3332.5 L570.5 3319.6 L559.5 3311.6 L573.1 3311.5 Z"/><path d="M579.2 3296.7 L583.4 3309.6 L596.9 3309.6 L586.0 3317.6 L590.1 3330.5 L579.2 3322.6 L568.2 3330.5 L572.3 3317.6 L561.4 3309.6 L574.9 3309.6 Z"/><path d="M581.5 3294.3 L585.7 3307.2 L599.3 3307.2 L588.3 3315.2 L592.5 3328.1 L581.5 3320.2 L570.5 3328.1 L574.6 3315.2 L563.7 3307.2 L577.2 3307.2 Z"/><path d="M584.4 3291.5 L588.7 3304.3 L602.2 3304.4 L591.3 3312.4 L595.4 3325.3 L584.4 3317.4 L573.4 3325.3 L577.6 3312.4 L566.6 3304.4 L580.2 3304.3 Z"/><path d="M588.1 3288.1 L592.4 3301.0 L605.9 3301.1 L595.0 3309.1 L599.1 3322.0 L588.1 3314.0 L577.2 3322.0 L581.3 3309.1 L570.4 3301.1 L583.9 3301.0 Z"/><path d="M592.8 3284.3 L597.1 3297.2 L610.6 3297.2 L599.7 3305.2 L603.8 3318.2 L592.8 3310.2 L581.9 3318.2 L586.0 3305.2 L575.1 3297.2 L588.6 3297.2 Z"/><path d="M598.7 3280.0 L603.0 3292.9 L616.5 3292.9 L605.6 3300.9 L609.7 3313.9 L598.7 3305.9 L587.8 3313.9 L591.9 3300.9 L581.0 3292.9 L594.5 3292.9 Z"/><path d="M606.1 3275.3 L610.3 3288.2 L623.9 3288.2 L612.9 3296.2 L617.1 3309.2 L606.1 3301.2 L595.1 3309.2 L599.2 3296.2 L588.3 3288.2 L601.9 3288.2 Z"/><path d="M615.1 3270.4 L619.4 3283.3 L632.9 3283.3 L622.0 3291.3 L626.1 3304.2 L615.1 3296.3 L604.1 3304.2 L608.3 3291.3 L597.3 3283.3 L610.9 3283.3 Z"/><path d="M626.0 3265.5 L630.2 3278.4 L643.8 3278.4 L632.9 3286.4 L637.0 3299.3 L626.0 3291.4 L615.0 3299.3 L619.2 3286.4 L608.2 3278.4 L621.8 3278.4 Z"/><path d="M638.8 3261.0 L643.0 3273.9 L656.6 3274.0 L645.7 3282.0 L649.8 3294.9 L638.8 3286.9 L627.8 3294.9 L632.0 3282.0 L621.0 3274.0 L634.6 3273.9 Z"/><path d="M653.4 3257.4 L657.6 3270.3 L671.2 3270.3 L660.2 3278.3 L664.4 3291.2 L653.4 3283.3 L642.4 3291.2 L646.5 3278.3 L635.6 3270.3 L649.1 3270.3 Z"/><path d="M669.3 3255.0 L673.5 3267.9 L687.1 3267.9 L676.2 3275.9 L680.3 3288.8 L669.3 3280.9 L658.3 3288.8 L662.5 3275.9 L651.5 3267.9 L665.1 3267.9 Z"/><path d="M686.0 3254.2 L690.2 3267.0 L703.8 3267.1 L692.8 3275.1 L697.0 3288.0 L686.0 3280.1 L675.0 3288.0 L679.2 3275.1 L668.2 3267.1 L681.8 3267.0 Z"/><path d="M702.7 3255.0 L706.9 3267.9 L720.5 3267.9 L709.5 3275.9 L713.7 3288.8 L702.7 3280.9 L691.7 3288.8 L695.8 3275.9 L684.9 3267.9 L698.5 3267.9 Z"/><path d="M718.6 3257.4 L722.9 3270.3 L736.4 3270.3 L725.5 3278.3 L729.6 3291.2 L718.6 3283.3 L707.6 3291.2 L711.8 3278.3 L700.8 3270.3 L714.4 3270.3 Z"/><path d="M732.2 3265.3 L736.4 3278.2 L750.0 3278.2 L739.0 3286.2 L743.2 3299.1 L732.2 3291.2 L721.2 3299.1 L725.4 3286.2 L714.4 3278.2 L728.0 3278.2 Z"/><path d="M743.9 3271.2 L748.1 3284.1 L761.7 3284.1 L750.7 3292.1 L754.9 3305.0 L743.9 3297.1 L732.9 3305.0 L737.1 3292.1 L726.1 3284.1 L739.7 3284.1 Z"/><path d="M753.0 3277.1 L757.2 3290.0 L770.8 3290.0 L759.8 3298.0 L764.0 3310.9 L753.0 3303.0 L742.0 3310.9 L746.2 3298.0 L735.2 3290.0 L748.8 3290.0 Z"/><path d="M759.0 3281.8 L763.2 3294.7 L776.8 3294.7 L765.8 3302.7 L770.0 3315.6 L759.0 3307.7 L748.0 3315.6 L752.2 3302.7 L741.2 3294.7 L754.8 3294.7 Z"/><path d="M762.6 3284.9 L766.8 3297.8 L780.4 3297.8 L769.4 3305.8 L773.6 3318.7 L762.6 3310.8 L751.6 3318.7 L755.8 3305.8 L744.8 3297.8 L758.4 3297.8 Z"/><path d="M765.0 3286.3 L769.2 3299.2 L782.8 3299.2 L771.8 3307.2 L776.0 3320.1 L765.0 3312.2 L754.0 3320.1 L758.2 3307.2 L747.2 3299.2 L760.8 3299.2 Z"/><path d="M763.6 3299.3 L767.8 3312.2 L781.4 3312.2 L770.4 3320.2 L774.6 3333.1 L763.6 3325.2 L752.6 3333.1 L756.8 3320.2 L745.8 3312.2 L759.4 3312.2 Z"/></g>
<path d="M570.2 3326.2 L570.2 3326.2 L570.2 3326.2 L570.2 3326.2 L570.2 3326.2 L570.2 3326.2 L570.2 3326.2 L570.2 3326.2 L570.2 3326.2 L570.2 3326.2 L570.2 3326.2 L570.2 3326.2 L570.2 3326.2 L570.2 3326.2 L570.2 3326.2 L570.2 3326.2 L570.2 3326.2 L570.2 3326.2 L570.2 3326.2 L570.2 3326.2 L570.2 3326.2 L570.2 3326.2 L570.2 3326.2 L570.2 3326.2 L570.2 3326.2 L570.2 3326.2 L570.2 3326.2 L570.2 3326.2 L570.2 3326.2 L570.2 3326.2 L570.2 3326.2 L570.2 3326.2 L570.2 3326.2 L570.2 3326.2 L570.2 3326.2 L570.2 3326.2 L570.2 3326.2 L570.2 3326.2 L570.2 3326.2 L570.2 3326.2 L570.2 3326.2 L570.2 3326.2 L570.2 3326.2 L570.2 3326.2 L570.2 3326.2 L570.2 3326.2 L570.2 3326.2 L570.2 3326.2 L570.2 3326.2 L570.2 3326.2 L570.2 3326.2 L570.2 3326.2 L570.2 3326.2 L570.2 3326.2 L570.2 3326.2 L570.2 3326.2 L570.2 3326.2 L570.2 3326.2 L570.2 3326.2 L570.2 3326.2 L570.2 3326.2 L570.2 3326.2 L570.2 3326.2 L570.2 3326.2 L570.2 3326.2 L570.2 3326.2 L570.2 3326.2 L570.2 3326.2 L570.2 3326.2 L570.2 3326.2 L570.2 3326.2 L570.2 3326.2 L570.2 3326.2 L570.2 3326.2 L570.2 3326.2 L570.2 3326.2 L570.2 3326.2 L570.2 3326.2 L570.2 3326.2 L570.2 3326.2 L570.2 3326.2 L570.2 3326.2 L570.2 3326.2 L570.2 3326.2 L570.2 3326.2 L570.2 3326.2 L570.2 3326.2 L570.2 3326.2 L570.2 3326.2 L570.2 3326.1 L570.2 3326.1 L570.2 3326.1 L570.2 3326.1 L570.2 3326.1 L570.2 3326.1 L570.2 3326.1 L570.2 3326.1 L570.2 3326.1 L570.2 3326.1 L570.2 3326.1 L570.2 3326.1 L570.2 3326.1 L570.2 3326.1 L570.2 3326.1 L570.2 3326.1 L570.2 3326.1 L570.2 3326.1 L570.2 3326.1 L570.2 3326.1 L570.2 3326.1 L570.2 3326.1 L570.2 3326.1 L570.2 3326.1 L570.2 3326.1 L570.2 3326.1 L570.2 3326.1 L570.2 3326.1 L570.2 3326.1 L570.2 3326.1 L570.2 3326.1 L570.2 3326.1 L570.2 3326.1 L570.2 3326.1 L570.2 3326.1 L570.2 3326.1 L570.2 3326.1 L570.2 3326.1 L570.2 3326.1 L570.2 3326.1 L570.2 3326.1 L570.2 3326.1 L570.2 3326.1 L570.2 3326.1 L570.2 3326.1 L570.2 3326.1 L570.2 3326.1 L570.2 3326.1 L570.2 3326.1 L570.2 3326.1 L570.2 3326.1 L570.2 3326.1 L570.2 3326.1 L570.2 3326.1 L570.2 3326.1 L570.2 3326.1 L570.2 3326.1 L570.2 3326.1 L570.2 3326.1 L570.2 3326.1 L570.2 3326.1 L570.2 3326.1 L570.2 3326.1 L570.2 3326.1 L570.2 3326.1 L570.2 3326.1 L570.2 3326.1 L570.2 3326.1 L570.2 3326.1 L570.2 3326.1 L570.2 3326.1 L570.2 3326.1 L570.2 3326.1 L570.2 3326.1 L570.2 3326.1 L570.2 3326.1 L570.3 3326.1 L570.3 3326.1 L570.3 3326.1 L570.3 3326.1 L570.3 3326.1 L570.3 3326.0 L570.3 3326.0 L570.3 3326.0 L570.3 3326.0 L570.3 3326.0 L570.3 3326.0 L570.3 3326.0 L570.3 3326.0 L570.3 3326.0 L570.3 3326.0 L570.3 3326.0 L570.3 3326.0 L570.3 3326.0 L570.3 3326.0 L570.3 3326.0 L570.3 3326.0 L570.3 3326.0 L570.3 3326.0 L570.3 3326.0 L570.3 3326.0 L570.3 3326.0 L570.3 3326.0 L570.3 3326.0 L570.3 3326.0 L570.3 3326.0 L570.3 3326.0 L570.3 3326.0 L570.3 3326.0 L570.3 3326.0 L570.3 3326.0 L570.3 3326.0 L570.3 3326.0 L570.3 3326.0 L570.3 3326.0 L570.3 3326.0 L570.3 3326.0 L570.3 3326.0 L570.3 3325.9 L570.3 3325.9 L570.3 3325.9 L570.3 3325.9 L570.3 3325.9 L570.3 3325.9 L570.3 3325.9 L570.3 3325.9 L570.4 3325.9 L570.4 3325.9 L570.4 3325.9 L570.4 3325.9 L570.4 3325.9 L570.4 3325.9 L570.4 3325.9 L570.4 3325.9 L570.4 3325.9 L570.4 3325.9 L570.4 3325.9 L570.4 3325.9 L570.4 3325.9 L570.4 3325.9 L570.4 3325.9 L570.4 3325.9 L570.4 3325.9 L570.4 3325.8 L570.4 3325.8 L570.4 3325.8 L570.4 3325.8 L570.4 3325.8 L570.4 3325.8 L570.4 3325.8 L570.4 3325.8 L570.4 3325.8 L570.4 3325.8 L570.4 3325.8 L570.4 3325.8 L570.5 3325.8 L570.5 3325.8 L570.5 3325.8 L570.5 3325.8 L570.5 3325.8 L570.5 3325.8 L570.5 3325.7 L570.5 3325.7 L570.5 3325.7 L570.5 3325.7 L570.5 3325.7 L570.5 3325.7 L570.5 3325.7 L570.5 3325.7 L570.5 3325.7 L570.5 3325.7 L570.5 3325.7 L570.5 3325.7 L570.5 3325.7 L570.5 3325.7 L570.5 3325.7 L570.6 3325.6 L570.6 3325.6 L570.6 3325.6 L570.6 3325.6 L570.6 3325.6 L570.6 3325.6 L570.6 3325.6 L570.6 3325.6 L570.6 3325.6 L570.6 3325.6 L570.6 3325.6 L570.6 3325.6 L570.6 3325.5 L570.6 3325.5 L570.6 3325.5 L570.6 3325.5 L570.7 3325.5 L570.7 3325.5 L570.7 3325.5 L570.7 3325.5 L570.7 3325.5 L570.7 3325.5 L570.7 3325.5 L570.7 3325.4 L570.7 3325.4 L570.7 3325.4 L570.7 3325.4 L570.7 3325.4 L570.7 3325.4 L570.8 3325.4 L570.8 3325.4 L570.8 3325.4 L570.8 3325.3 L570.8 3325.3 L570.8 3325.3 L570.8 3325.3 L570.8 3325.3 L570.8 3325.3 L570.8 3325.3 L570.8 3325.3 L570.8 3325.2 L570.9 3325.2 L570.9 3325.2 L570.9 3325.2 L570.9 3325.2 L570.9 3325.2 L570.9 3325.2 L570.9 3325.2 L570.9 3325.1 L570.9 3325.1 L571.0 3325.1 L571.0 3325.1 L571.0 3325.1 L571.0 3325.1 L571.0 3325.0 L571.0 3325.0 L571.0 3325.0 L571.0 3325.0 L571.0 3325.0 L571.1 3325.0 L571.1 3324.9 L571.1 3324.9 L571.1 3324.9 L571.1 3324.9 L571.1 3324.9 L571.1 3324.9 L571.2 3324.8 L571.2 3324.8 L571.2 3324.8 L571.2 3324.8 L571.2 3324.8 L571.2 3324.7 L571.2 3324.7 L571.3 3324.7 L571.3 3324.7 L571.3 3324.7 L571.3 3324.6 L571.3 3324.6 L571.3 3324.6 L571.3 3324.6 L571.4 3324.6 L571.4 3324.5 L571.4 3324.5 L571.4 3324.5 L571.4 3324.5 L571.5 3324.4 L571.5 3324.4 L571.5 3324.4 L571.5 3324.4 L571.5 3324.3 L571.5 3324.3 L571.6 3324.3 L571.6 3324.3 L571.6 3324.2 L571.6 3324.2 L571.6 3324.2 L571.7 3324.2 L571.7 3324.1 L571.7 3324.1 L571.7 3324.1 L571.8 3324.1 L571.8 3324.0 L571.8 3324.0 L571.8 3324.0 L571.8 3323.9 L571.9 3323.9 L571.9 3323.9 L571.9 3323.8 L571.9 3323.8 L572.0 3323.8 L572.0 3323.7 L572.0 3323.7 L572.0 3323.7 L572.1 3323.6 L572.1 3323.6 L572.1 3323.6 L572.1 3323.5 L572.2 3323.5 L572.2 3323.5 L572.2 3323.4 L572.3 3323.4 L572.3 3323.4 L572.3 3323.3 L572.4 3323.3 L572.4 3323.2 L572.4 3323.2 L572.4 3323.2 L572.5 3323.1 L572.5 3323.1 L572.5 3323.0 L572.6 3323.0 L572.6 3322.9 L572.6 3322.9 L572.7 3322.9 L572.7 3322.8 L572.8 3322.8 L572.8 3322.7 L572.8 3322.7 L572.9 3322.6 L572.9 3322.6 L572.9 3322.5 L573.0 3322.5 L573.0 3322.4 L573.1 3322.4 L573.1 3322.3 L573.1 3322.3 L573.2 3322.2 L573.2 3322.2 L573.3 3322.1 L573.3 3322.1 L573.4 3322.0 L573.4 3322.0 L573.4 3321.9 L573.5 3321.8 L573.5 3321.8 L573.6 3321.7 L573.6 3321.7 L573.7 3321.6 L573.7 3321.5 L573.8 3321.5 L573.8 3321.4 L573.9 3321.4 L573.9 3321.3 L574.0 3321.2 L574.1 3321.2 L574.1 3321.1 L574.2 3321.0 L574.2 3321.0 L574.3 3320.9 L574.3 3320.8 L574.4 3320.7 L574.5 3320.7 L574.5 3320.6 L574.6 3320.5 L574.6 3320.4 L574.7 3320.4 L574.8 3320.3 L574.8 3320.2 L574.9 3320.1 L575.0 3320.1 L575.0 3320.0 L575.1 3319.9 L575.2 3319.8 L575.2 3319.7 L575.3 3319.6 L575.4 3319.6 L575.5 3319.5 L575.5 3319.4 L575.6 3319.3 L575.7 3319.2 L575.8 3319.1 L575.9 3319.0 L575.9 3318.9 L576.0 3318.8 L576.1 3318.7 L576.2 3318.6 L576.3 3318.5 L576.4 3318.4 L576.5 3318.3 L576.5 3318.2 L576.6 3318.1 L576.7 3318.0 L576.8 3317.9 L576.9 3317.8 L577.0 3317.7 L577.1 3317.6 L577.2 3317.5 L577.3 3317.4 L577.4 3317.3 L577.5 3317.1 L577.6 3317.0 L577.7 3316.9 L577.8 3316.8 L578.0 3316.7 L578.1 3316.5 L578.2 3316.4 L578.3 3316.3 L578.4 3316.2 L578.5 3316.0 L578.7 3315.9 L578.8 3315.8 L578.9 3315.7 L579.0 3315.5 L579.2 3315.4 L579.3 3315.2 L579.4 3315.1 L579.5 3315.0 L579.7 3314.8 L579.8 3314.7 L580.0 3314.5 L580.1 3314.4 L580.2 3314.2 L580.4 3314.1 L580.5 3313.9 L580.7 3313.8 L580.8 3313.6 L581.0 3313.5 L581.2 3313.3 L581.3 3313.2 L581.5 3313.0 L581.6 3312.8 L581.8 3312.7 L582.0 3312.5 L582.2 3312.3 L582.3 3312.2 L582.5 3312.0 L582.7 3311.8 L582.9 3311.6 L583.0 3311.5 L583.2 3311.3 L583.4 3311.1 L583.6 3310.9 L583.8 3310.7 L584.0 3310.5 L584.2 3310.4 L584.4 3310.2 L584.6 3310.0 L584.8 3309.8 L585.1 3309.6 L585.3 3309.4 L585.5 3309.2 L585.7 3309.0 L585.9 3308.8 L586.2 3308.6 L586.4 3308.4 L586.6 3308.1 L586.9 3307.9 L587.1 3307.7 L587.4 3307.5 L587.6 3307.3 L587.9 3307.1 L588.1 3306.8 L588.4 3306.6 L588.7 3306.4 L588.9 3306.2 L589.2 3305.9 L589.5 3305.7 L589.8 3305.5 L590.1 3305.2 L590.4 3305.0 L590.7 3304.8 L591.0 3304.5 L591.3 3304.3 L591.6 3304.0 L591.9 3303.8 L592.2 3303.5 L592.5 3303.3 L592.8 3303.0 L593.2 3302.8 L593.5 3302.5 L593.9 3302.3 L594.2 3302.0 L594.5 3301.7 L594.9 3301.5 L595.3 3301.2 L595.6 3300.9 L596.0 3300.7 L596.4 3300.4 L596.8 3300.1 L597.1 3299.8 L597.5 3299.6 L597.9 3299.3 L598.3 3299.0 L598.7 3298.7 L599.2 3298.4 L599.6 3298.2 L600.0 3297.9 L600.4 3297.6 L600.9 3297.3 L601.3 3297.0 L601.8 3296.7 L602.2 3296.4 L602.7 3296.1 L603.2 3295.8 L603.6 3295.5 L604.1 3295.2 L604.6 3294.9 L605.1 3294.6 L605.6 3294.3 L606.1 3294.0 L606.6 3293.7 L607.1 3293.4 L607.6 3293.1 L608.2 3292.8 L608.7 3292.5 L609.3 3292.2 L609.8 3291.9 L610.4 3291.6 L611.0 3291.3 L611.5 3291.0 L612.1 3290.6 L612.7 3290.3 L613.3 3290.0 L613.9 3289.7 L614.5 3289.4 L615.1 3289.1 L615.7 3288.8 L616.4 3288.5 L617.0 3288.2 L617.7 3287.9 L618.3 3287.6 L619.0 3287.2 L619.7 3286.9 L620.3 3286.6 L621.0 3286.3 L621.7 3286.0 L622.4 3285.7 L623.1 3285.4 L623.8 3285.1 L624.5 3284.8 L625.3 3284.5 L626.0 3284.2 L626.8 3283.9 L627.5 3283.6 L628.3 3283.3 L629.0 3283.0 L629.8 3282.8 L630.6 3282.5 L631.4 3282.2 L632.2 3281.9 L633.0 3281.6 L633.8 3281.3 L634.6 3281.1 L635.4 3280.8 L636.3 3280.5 L637.1 3280.3 L638.0 3280.0 L638.8 3279.7 L639.7 3279.5 L640.5 3279.2 L641.4 3279.0 L642.3 3278.7 L643.2 3278.5 L644.1 3278.3 L645.0 3278.0 L645.9 3277.8 L646.8 3277.6 L647.7 3277.3 L648.6 3277.1 L649.6 3276.9 L650.5 3276.7 L651.5 3276.5 L652.4 3276.3 L653.4 3276.1 L654.3 3275.9 L655.3 3275.7 L656.3 3275.5 L657.2 3275.4 L658.2 3275.2 L659.2 3275.0 L660.2 3274.9 L661.2 3274.7 L662.2 3274.6 L663.2 3274.4 L664.2 3274.3 L665.2 3274.2 L666.2 3274.0 L667.3 3273.9 L668.3 3273.8 L669.3 3273.7 L670.3 3273.6 L671.4 3273.5 L672.4 3273.4 L673.4 3273.3 L674.5 3273.3 L675.5 3273.2 L676.6 3273.1 L677.6 3273.1 L678.6 3273.0 L679.7 3273.0 L680.7 3272.9 L681.8 3272.9 L682.8 3272.9 L683.9 3272.9 L685.0 3272.9 L686.0 3272.9 L687.1 3272.9 L688.1 3272.9 L689.2 3272.9 L690.2 3272.9 L691.3 3272.9 L692.3 3273.0 L693.3 3273.0 L694.4 3273.1 L695.4 3273.1 L696.5 3273.2 L697.5 3273.3 L698.6 3273.3 L699.6 3273.4 L700.6 3273.5 L701.7 3273.6 L702.7 3273.7 L703.7 3273.8 L704.8 3273.9 L705.9 3274.1 L707.1 3274.2 L708.2 3274.4 L709.3 3274.5 L710.3 3274.7 L711.4 3274.8 L712.3 3275.0 L713.2 3275.1 L714.0 3275.3 L714.8 3275.4 L715.3 3275.4 L715.8 3275.5 L716.1 3275.4 L716.3 3275.4 L716.5 3275.4 L716.6 3275.3 L716.7 3275.3 L716.9 3275.4 L717.2 3275.4 L717.5 3275.6 L718.0 3275.8 L718.6 3276.1 L719.4 3276.5 L720.4 3277.0 L721.4 3277.6 L722.5 3278.3 L723.7 3279.0 L724.9 3279.7 L726.2 3280.5 L727.5 3281.2 L728.7 3282.0 L729.9 3282.7 L731.1 3283.4 L732.2 3284.0 L733.2 3284.6 L734.3 3285.1 L735.3 3285.6 L736.3 3286.1 L737.3 3286.6 L738.3 3287.1 L739.3 3287.5 L740.3 3288.0 L741.2 3288.5 L742.1 3288.9 L743.0 3289.4 L743.9 3289.9 L744.7 3290.4 L745.6 3290.9 L746.3 3291.3 L747.1 3291.8 L747.9 3292.3 L748.6 3292.8 L749.3 3293.2 L750.0 3293.7 L750.8 3294.2 L751.5 3294.7 L752.2 3295.3 L753.0 3295.8 L753.8 3296.4 L754.6 3297.0 L755.5 3297.7 L756.3 3298.3 L757.2 3299.0 L758.0 3299.7 L758.9 3300.4 L759.7 3301.1 L760.5 3301.7 L761.2 3302.2 L761.9 3302.8 L762.6 3303.2 L763.2 3303.6 L763.8 3303.9 L764.4 3304.2 L764.9 3304.4 L765.4 3304.6 L765.9 3304.8 L766.3 3305.0 L766.8 3305.1 L767.1 3305.2 L767.5 3305.3 L767.8 3305.4 L768.0 3305.5" fill="none" stroke="#0000ff" stroke-width="6" stroke-linejoin="round"/>
<g transform="translate(1553.8 2047.9)">
<rect x="1.7" y="1.6" width="576" height="607" fill="#fff" stroke="#000" stroke-width="3"/>
<g stroke-width="4" fill="#fff">
<g stroke="#808080"><rect x="86.4" y="41.9" width="31.2" height="31.2"/></g>
<g stroke="#008000"><circle cx="102.0" cy="156.6" r="17.6"/></g>
<g stroke="#8000ff" stroke-width="4.8"><path d="M102.0 233.9 L121.3 268.0 L82.7 268.0 Z"/></g>
<g stroke="#000080" stroke-width="4"><path d="M82.0 355.3H122.0M102.0 335.3V375.3"/><path stroke-width="5" d="M82.0 335.3L122.0 375.3M82.0 375.3L122.0 335.3"/></g>
<g stroke="#0000ff" stroke-width="3.8" stroke-linejoin="round"><path d="M102.0 435.9 L106.2 448.8 L119.8 448.8 L108.8 456.8 L113.0 469.7 L102.0 461.8 L91.0 469.7 L95.2 456.8 L84.2 448.8 L97.8 448.8 Z"/></g>
</g>
<line x1="11" y1="552.3" x2="193.5" y2="552.3" stroke="#0000ff" stroke-width="6"/>
<g font-size="77" letter-spacing="1.5">
<text x="213.5" y="85.0">1day</text>
<text x="213.5" y="183.7">4days</text>
<text x="213.5" y="282.4">7days</text>
<text x="213.5" y="381.1">10days</text>
<text x="213.5" y="479.8">14days</text>
<text x="212.0" y="578.5">Fitting line</text>
</g></g>
<line x1="806.5" y1="2844.9" x2="948.1" y2="2869.9" stroke="#0000ff" stroke-width="8.8"/><path d="M982.7 2876.1 L946.5 2878.7 L949.6 2861.2 Z" fill="#0000ff" stroke="#0000ff" stroke-width="6" stroke-linejoin="round"/>
<line x1="793.8" y1="2852.2" x2="734.0" y2="3002.6" stroke="#0000ff" stroke-width="8.8"/><path d="M721.0 3035.3 L725.7 2999.3 L742.3 3005.9 Z" fill="#0000ff" stroke="#0000ff" stroke-width="6" stroke-linejoin="round"/>
<line x1="826.5" y1="2940.5" x2="777.3" y2="3105.9" stroke="#0000ff" stroke-width="8.8"/><path d="M767.3 3139.6 L768.8 3103.3 L785.8 3108.4 Z" fill="#0000ff" stroke="#0000ff" stroke-width="6" stroke-linejoin="round"/>
<line x1="1169.9" y1="3208.7" x2="823.3" y2="3307.1" stroke="#800080" stroke-width="8.8"/><path d="M789.5 3316.7 L820.9 3298.5 L825.8 3315.6 Z" fill="#800080" stroke="#800080" stroke-width="6" stroke-linejoin="round"/>
<line x1="1162.5" y1="3235.9" x2="969.9" y2="3305.1" stroke="#800080" stroke-width="8.8"/><path d="M936.8 3317.0 L966.9 3296.7 L973.0 3313.5 Z" fill="#800080" stroke="#800080" stroke-width="6" stroke-linejoin="round"/>
<line x1="1210.4" y1="3233.2" x2="1132.2" y2="3289.6" stroke="#800080" stroke-width="8.8"/><path d="M1103.6 3310.1 L1127.0 3282.3 L1137.4 3296.8 Z" fill="#800080" stroke="#800080" stroke-width="6" stroke-linejoin="round"/>
<line x1="2073.2" y1="2997.7" x2="2027.3" y2="2907.3" stroke="#800080" stroke-width="8.8"/><path d="M2011.4 2875.9 L2035.2 2903.2 L2019.4 2911.3 Z" fill="#800080" stroke="#800080" stroke-width="6" stroke-linejoin="round"/>
<line x1="2063.2" y1="3106.8" x2="2037.0" y2="3229.5" stroke="#800080" stroke-width="8.8"/><path d="M2029.6 3264.0 L2028.3 3227.7 L2045.7 3231.4 Z" fill="#800080" stroke="#800080" stroke-width="6" stroke-linejoin="round"/>
<g font-weight="bold" font-size="73" letter-spacing="0.9">
<text x="681.0" y="2840.6" xml:space="preserve">0.19 Hz</text>
<text x="1172.0" y="3218.4" xml:space="preserve">0. 01 Hz</text>
<text x="1911.5" y="3072.4" xml:space="preserve">0. 01 Hz</text>
</g>
</g>
</svg></body></html>
